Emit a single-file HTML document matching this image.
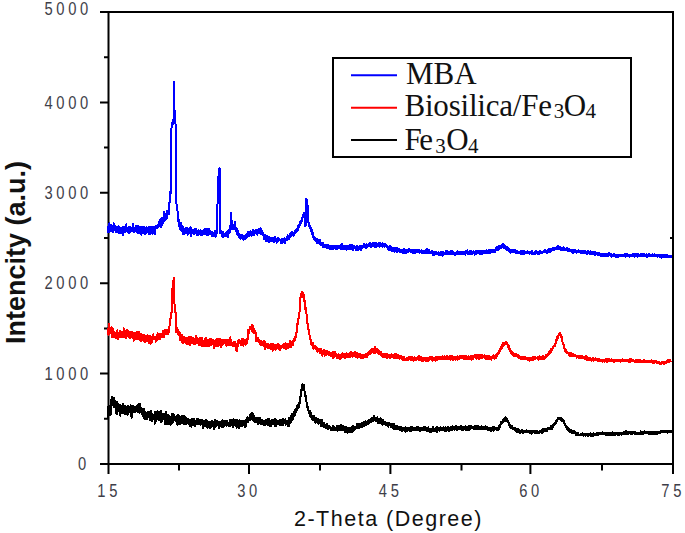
<!DOCTYPE html>
<html><head><meta charset="utf-8"><style>
html,body{margin:0;padding:0;background:#fff;}
body{width:685px;height:533px;overflow:hidden;position:relative;}
svg{position:absolute;left:0;top:0;}
.t{font-family:"Liberation Sans",sans-serif;}
.s{font-family:"Liberation Serif",serif;}
</style></head><body>
<svg width="685" height="533" viewBox="0 0 685 533">

<g stroke="#000" stroke-width="2" fill="none">
<path d="M108.5 11V465M107.5 464H674M107.5 12H674M673 11V465"/>
<path d="M100 464H108M100 373.6H108M100 283.2H108M100 192.8H108M100 102.4H108M100 12H108"/>
<path d="M104 418.8H108M104 328.4H108M104 238H108M104 147.6H108M104 57.2H108"/>
<path d="M108.5 464V474M249 464V474M390.4 464V474M530.4 464V474M673 464V474"/>
<path d="M179 464V470.5M320 464V470.5M461.5 464V470.5M602 464V470.5"/>
<path d="M670 238H673"/>
<rect x="333" y="58" width="298" height="99"/>
</g>
<g fill="none" shape-rendering="crispEdges" stroke-width="2" stroke-linejoin="round">
<path stroke="#0000ff" d="M107.6 226.7 107.8 232.2 108.0 227.7 108.2 230.8 108.4 226.3 108.6 228.2 108.8 231.2 109.0 228.5 109.2 228.3 109.4 223.1 109.6 231.8 109.8 228.2 110.0 228.8 110.2 228.3 110.4 227.6 110.6 227.7 110.8 224.9 111.0 229.0 111.2 228.0 111.4 226.3 111.6 231.0 111.8 225.9 112.0 227.8 112.2 231.6 112.4 231.3 112.6 230.8 112.8 227.5 113.0 228.2 113.2 227.4 113.4 231.6 113.6 227.4 113.8 223.4 114.0 229.4 114.2 229.7 114.4 229.6 114.6 230.3 114.8 225.6 115.0 228.9 115.2 228.5 115.4 226.2 115.6 230.1 115.8 232.3 116.0 228.6 116.2 228.1 116.4 231.4 116.6 228.6 116.8 228.0 117.0 232.4 117.2 227.0 117.4 230.7 117.6 230.5 117.8 231.2 118.0 226.7 118.2 229.8 118.4 227.5 118.6 226.4 118.8 231.5 119.0 233.0 119.2 230.6 119.4 228.3 119.6 228.3 119.8 227.3 120.0 231.3 120.2 232.0 120.4 229.6 120.6 228.8 120.8 228.3 121.0 231.5 121.2 231.1 121.4 233.5 121.6 228.6 121.8 231.5 122.0 232.8 122.2 227.9 122.4 230.5 122.6 227.4 122.8 231.6 123.0 234.7 123.2 231.8 123.4 231.4 123.6 230.3 123.8 228.9 124.0 230.8 124.2 226.9 124.4 231.2 124.6 228.3 124.8 232.3 125.0 227.3 125.2 229.9 125.4 229.3 125.6 230.0 125.8 228.6 126.0 229.3 126.2 224.3 126.4 226.9 126.6 229.5 126.8 227.6 127.0 230.2 127.2 227.8 127.4 231.4 127.6 228.6 127.8 229.7 128.0 231.8 128.2 230.4 128.4 230.8 128.6 229.3 128.8 227.3 129.0 226.5 129.2 233.3 129.4 226.9 129.6 229.3 129.8 227.0 130.0 226.9 130.2 232.2 130.4 230.5 130.6 227.5 130.8 227.8 131.0 228.1 131.2 231.1 131.4 229.1 131.6 229.0 131.8 230.6 132.0 231.4 132.2 230.3 132.4 228.0 132.6 229.1 132.8 223.6 133.0 225.9 133.2 228.6 133.4 229.7 133.6 228.1 133.8 230.4 134.0 232.6 134.2 232.1 134.4 230.0 134.6 231.7 134.8 229.5 135.0 231.6 135.2 230.5 135.4 229.1 135.6 225.7 135.8 228.9 136.0 226.4 136.2 228.5 136.4 230.1 136.6 230.7 136.8 229.6 137.0 232.4 137.2 230.0 137.4 226.4 137.6 232.6 137.8 229.3 138.0 229.4 138.2 231.4 138.4 226.3 138.6 233.2 138.8 228.8 139.0 229.0 139.2 226.7 139.4 232.1 139.6 229.9 139.8 233.3 140.0 231.2 140.2 230.8 140.4 230.9 140.6 227.8 140.8 228.6 141.0 232.0 141.2 227.2 141.4 235.0 141.6 229.8 141.8 229.3 142.0 229.9 142.2 228.0 142.4 229.4 142.6 228.5 142.8 227.0 143.0 232.6 143.2 233.2 143.4 229.5 143.6 231.1 143.8 230.6 144.0 227.1 144.2 233.3 144.4 227.4 144.6 231.6 144.8 233.8 145.0 228.8 145.2 232.4 145.4 230.2 145.6 233.5 145.8 233.1 146.0 229.5 146.2 233.2 146.4 227.4 146.6 230.9 146.8 230.5 147.0 229.2 147.2 227.6 147.4 230.0 147.6 229.2 147.8 230.1 148.0 232.3 148.2 230.4 148.4 233.1 148.6 232.5 148.8 231.9 149.0 226.6 149.2 234.2 149.4 228.5 149.6 229.0 149.8 233.4 150.0 230.2 150.2 232.2 150.4 234.0 150.6 232.8 150.8 227.2 151.0 228.8 151.2 232.8 151.4 231.5 151.6 228.4 151.8 233.2 152.0 227.2 152.2 231.2 152.4 229.2 152.6 233.9 152.8 228.1 153.0 228.3 153.2 227.0 153.4 229.0 153.6 227.6 153.8 229.1 154.0 227.4 154.2 233.0 154.4 232.3 154.6 232.2 154.8 229.6 155.0 233.8 155.2 230.9 155.4 226.2 155.6 226.6 155.8 228.7 156.0 225.6 156.2 227.9 156.4 225.6 156.6 227.3 156.8 226.6 157.0 225.5 157.2 228.2 157.4 228.4 157.6 227.9 157.8 224.5 158.0 224.6 158.2 226.7 158.4 225.7 158.6 224.8 158.8 222.6 159.0 222.4 159.2 221.9 159.4 223.3 159.6 224.8 159.8 226.1 160.0 225.1 160.2 219.4 160.4 223.7 160.6 220.2 160.8 219.3 161.0 227.1 161.2 223.7 161.4 221.8 161.6 218.2 161.8 221.7 162.0 221.1 162.2 224.7 162.4 220.6 162.6 218.7 162.8 223.5 163.0 222.4 163.2 217.9 163.4 218.8 163.6 218.1 163.8 213.5 164.0 212.2 164.2 213.7 164.4 212.1 164.6 221.0 164.8 218.7 165.0 219.3 165.2 219.7 165.4 217.9 165.6 214.9 165.8 213.8 166.0 216.6 166.2 218.9 166.4 216.6 166.6 218.5 166.8 215.2 167.0 217.8 167.2 211.1 167.4 213.3 167.6 215.1 167.8 212.6 168.0 214.6 168.2 214.1 168.4 212.6 168.6 212.9 168.8 212.8 169.0 213.1 169.2 213.6 169.4 205.0 169.6 200.5 169.8 192.2 170.0 193.0 170.2 192.5 170.4 192.8 170.6 193.8 170.8 178.8 171.0 163.3 171.2 147.7 171.4 132.7 171.6 124.5 171.8 123.8 172.0 125.4 172.2 122.9 172.4 123.7 172.6 122.8 172.8 124.1 173.0 122.8 173.2 123.0 173.4 123.4 173.6 115.1 173.8 99.1 174.0 83.5 174.2 82.3 174.4 103.3 174.6 115.2 174.8 115.0 175.0 114.3 175.2 115.4 175.4 116.7 175.6 127.9 175.8 153.6 176.0 177.4 176.2 202.8 176.4 203.8 176.6 204.3 176.8 204.2 177.0 205.1 177.2 205.3 177.4 209.1 177.6 213.4 177.8 221.0 178.0 217.6 178.2 217.7 178.4 217.3 178.6 221.6 178.8 221.6 179.0 225.7 179.2 223.1 179.4 220.2 179.6 227.1 179.8 222.6 180.0 228.4 180.2 229.6 180.4 229.0 180.6 228.6 180.8 223.0 181.0 228.0 181.2 227.3 181.4 228.3 181.6 226.7 181.8 230.6 182.0 226.1 182.2 228.9 182.4 228.5 182.6 228.5 182.8 227.2 183.0 234.0 183.2 230.7 183.4 231.5 183.6 228.4 183.8 231.7 184.0 230.7 184.2 234.1 184.4 229.1 184.6 228.7 184.8 229.1 185.0 229.2 185.2 229.1 185.4 228.0 185.6 229.7 185.8 229.9 186.0 230.0 186.2 233.5 186.4 229.3 186.6 229.6 186.8 230.7 187.0 229.5 187.2 228.0 187.4 229.2 187.6 234.7 187.8 233.3 188.0 232.6 188.2 229.4 188.4 231.6 188.6 230.2 188.8 230.4 189.0 232.7 189.2 231.5 189.4 229.5 189.6 231.6 189.8 229.6 190.0 231.0 190.2 227.4 190.4 227.7 190.6 229.2 190.8 234.3 191.0 233.0 191.2 235.8 191.4 227.9 191.6 232.8 191.8 230.2 192.0 230.3 192.2 233.1 192.4 231.1 192.6 230.6 192.8 231.5 193.0 230.3 193.2 232.9 193.4 229.8 193.6 231.4 193.8 231.9 194.0 231.4 194.2 234.0 194.4 231.3 194.6 230.9 194.8 233.6 195.0 231.3 195.2 228.7 195.4 230.6 195.6 231.2 195.8 232.1 196.0 232.2 196.2 228.6 196.4 233.0 196.6 232.6 196.8 231.2 197.0 234.9 197.2 234.1 197.4 231.2 197.6 230.6 197.8 234.1 198.0 230.7 198.2 235.1 198.4 231.1 198.6 230.0 198.8 232.4 199.0 234.3 199.2 231.6 199.4 230.8 199.6 232.3 199.8 231.3 200.0 232.3 200.2 233.8 200.4 230.4 200.6 233.5 200.8 234.8 201.0 233.3 201.2 233.7 201.4 232.3 201.6 233.6 201.8 230.5 202.0 232.8 202.2 233.9 202.4 234.6 202.6 234.4 202.8 234.3 203.0 230.5 203.2 232.6 203.4 233.1 203.6 233.6 203.8 232.2 204.0 231.7 204.2 229.4 204.4 231.6 204.6 233.7 204.8 229.9 205.0 229.0 205.2 231.6 205.4 232.0 205.6 230.8 205.8 234.1 206.0 231.5 206.2 233.4 206.4 234.0 206.6 235.4 206.8 233.9 207.0 229.0 207.2 232.2 207.4 233.2 207.6 231.7 207.8 229.7 208.0 230.5 208.2 234.9 208.4 229.2 208.6 230.7 208.8 232.9 209.0 234.6 209.2 231.5 209.4 228.5 209.6 231.2 209.8 231.5 210.0 233.9 210.2 232.0 210.4 233.8 210.6 234.2 210.8 234.1 211.0 234.1 211.2 232.0 211.4 233.8 211.6 233.3 211.8 236.1 212.0 231.5 212.2 236.4 212.4 234.3 212.6 232.5 212.8 234.1 213.0 233.3 213.2 233.9 213.4 235.6 213.6 233.1 213.8 234.2 214.0 234.4 214.2 233.2 214.4 233.9 214.6 233.6 214.8 236.4 215.0 235.7 215.2 230.9 215.4 236.9 215.6 234.8 215.8 234.6 216.0 236.6 216.2 233.6 216.4 234.0 216.6 233.3 216.8 233.1 217.0 232.6 217.2 221.4 217.4 210.6 217.6 200.3 217.8 189.4 218.0 177.8 218.2 178.4 218.4 176.5 218.6 176.6 218.8 173.0 219.0 170.0 219.2 168.9 219.4 168.4 219.6 169.2 219.8 168.4 220.0 200.2 220.2 232.8 220.4 231.8 220.6 231.3 220.8 232.6 221.0 231.8 221.2 232.2 221.4 231.0 221.6 231.8 221.8 236.1 222.0 233.3 222.2 233.6 222.4 236.3 222.6 231.5 222.8 235.8 223.0 233.2 223.2 236.8 223.4 232.6 223.6 233.6 223.8 234.1 224.0 236.2 224.2 235.1 224.4 234.9 224.6 236.1 224.8 234.8 225.0 235.8 225.2 236.1 225.4 233.2 225.6 236.3 225.8 233.1 226.0 233.2 226.2 232.9 226.4 234.2 226.6 234.0 226.8 235.9 227.0 233.5 227.2 232.2 227.4 234.1 227.6 232.5 227.8 231.4 228.0 236.9 228.2 235.1 228.4 231.6 228.6 229.5 228.8 229.5 229.0 230.1 229.2 232.9 229.4 231.5 229.6 232.0 229.8 231.6 230.0 231.9 230.2 232.1 230.4 229.3 230.6 222.1 230.8 216.3 231.0 212.6 231.2 212.7 231.4 216.2 231.6 223.2 231.8 229.1 232.0 227.3 232.2 227.5 232.4 229.1 232.6 227.8 232.8 228.2 233.0 227.9 233.2 228.7 233.4 229.0 233.6 227.7 233.8 228.9 234.0 228.6 234.2 226.7 234.4 225.4 234.6 223.7 234.8 222.0 235.0 222.6 235.2 223.5 235.4 226.1 235.6 229.9 235.8 230.9 236.0 229.6 236.2 229.6 236.4 231.8 236.6 230.9 236.8 228.3 237.0 231.0 237.2 231.4 237.4 234.9 237.6 235.3 237.8 233.6 238.0 232.3 238.2 231.0 238.4 234.6 238.6 234.8 238.8 233.4 239.0 236.5 239.2 236.9 239.4 234.9 239.6 236.2 239.8 237.2 240.0 238.6 240.2 234.6 240.4 239.0 240.6 238.3 240.8 236.7 241.0 237.9 241.2 238.4 241.4 235.9 241.6 236.5 241.8 238.5 242.0 235.2 242.2 235.9 242.4 238.7 242.6 237.8 242.8 237.2 243.0 236.5 243.2 238.6 243.4 240.0 243.6 239.6 243.8 239.4 244.0 237.9 244.2 238.8 244.4 235.5 244.6 238.6 244.8 238.3 245.0 238.8 245.2 237.5 245.4 235.1 245.6 237.0 245.8 237.7 246.0 235.8 246.2 238.0 246.4 234.2 246.6 237.3 246.8 234.6 247.0 233.6 247.2 234.1 247.4 236.7 247.6 235.5 247.8 231.8 248.0 233.5 248.2 234.0 248.4 232.0 248.6 231.7 248.8 232.5 249.0 235.7 249.2 232.8 249.4 232.6 249.6 235.2 249.8 233.3 250.0 233.6 250.2 231.6 250.4 231.9 250.6 231.1 250.8 231.2 251.0 232.0 251.2 235.7 251.4 236.0 251.6 233.1 251.8 234.2 252.0 234.4 252.2 232.3 252.4 234.3 252.6 234.9 252.8 231.5 253.0 229.9 253.2 234.4 253.4 233.8 253.6 231.0 253.8 234.3 254.0 234.7 254.2 232.0 254.4 231.4 254.6 233.3 254.8 231.8 255.0 231.0 255.2 233.4 255.4 232.2 255.6 232.9 255.8 229.6 256.0 232.3 256.2 232.5 256.4 231.6 256.6 231.2 256.8 233.5 257.0 230.3 257.2 231.9 257.4 234.8 257.6 232.0 257.8 232.8 258.0 230.5 258.2 231.4 258.4 232.5 258.6 229.2 258.8 231.9 259.0 230.1 259.2 233.3 259.4 231.0 259.6 231.3 259.8 230.6 260.0 231.2 260.2 233.4 260.4 228.5 260.6 228.0 260.8 233.8 261.0 233.4 261.2 230.8 261.4 232.5 261.6 230.7 261.8 233.7 262.0 231.8 262.2 230.6 262.4 231.3 262.6 232.5 262.8 235.6 263.0 235.6 263.2 233.7 263.4 235.4 263.6 234.0 263.8 235.1 264.0 234.5 264.2 239.2 264.4 237.7 264.6 236.7 264.8 234.9 265.0 239.5 265.2 236.5 265.4 237.4 265.6 236.3 265.8 239.0 266.0 238.9 266.2 236.3 266.4 241.4 266.6 239.9 266.8 236.2 267.0 241.1 267.2 240.4 267.4 240.9 267.6 235.9 267.8 238.9 268.0 239.5 268.2 240.8 268.4 238.4 268.6 236.6 268.8 241.5 269.0 242.0 269.2 239.8 269.4 237.9 269.6 240.4 269.8 240.9 270.0 241.7 270.2 237.7 270.4 240.0 270.6 239.3 270.8 238.7 271.0 240.8 271.2 238.8 271.4 238.0 271.6 238.2 271.8 240.0 272.0 240.1 272.2 237.6 272.4 239.3 272.6 237.8 272.8 240.1 273.0 240.9 273.2 237.6 273.4 240.2 273.6 241.7 273.8 240.9 274.0 240.9 274.2 240.9 274.4 241.4 274.6 241.6 274.8 239.6 275.0 237.3 275.2 238.0 275.4 238.7 275.6 238.2 275.8 239.2 276.0 239.2 276.2 238.9 276.4 239.1 276.6 242.6 276.8 241.5 277.0 241.4 277.2 240.3 277.4 240.5 277.6 242.2 277.8 238.0 278.0 240.7 278.2 241.1 278.4 239.4 278.6 238.6 278.8 240.1 279.0 238.9 279.2 240.1 279.4 239.9 279.6 239.7 279.8 239.9 280.0 240.6 280.2 240.4 280.4 240.6 280.6 241.8 280.8 240.5 281.0 243.0 281.2 241.1 281.4 240.9 281.6 239.0 281.8 241.4 282.0 239.7 282.2 238.9 282.4 240.5 282.6 242.7 282.8 240.7 283.0 240.4 283.2 241.3 283.4 241.0 283.6 239.9 283.8 240.5 284.0 240.8 284.2 240.7 284.4 238.1 284.6 238.1 284.8 241.5 285.0 241.9 285.2 243.1 285.4 241.2 285.6 240.8 285.8 239.2 286.0 240.4 286.2 239.2 286.4 240.3 286.6 239.9 286.8 238.4 287.0 239.7 287.2 237.9 287.4 237.3 287.6 235.1 287.8 237.7 288.0 236.5 288.2 238.1 288.4 237.0 288.6 235.9 288.8 238.4 289.0 236.9 289.2 239.0 289.4 237.4 289.6 234.3 289.8 234.4 290.0 235.6 290.2 236.8 290.4 236.4 290.6 236.1 290.8 233.3 291.0 233.9 291.2 236.3 291.4 234.6 291.6 232.4 291.8 235.5 292.0 235.6 292.2 233.9 292.4 233.7 292.6 232.3 292.8 234.1 293.0 234.8 293.2 234.0 293.4 232.9 293.6 235.7 293.8 235.0 294.0 234.9 294.2 234.6 294.4 233.5 294.6 231.8 294.8 233.2 295.0 232.1 295.2 233.3 295.4 230.2 295.6 231.2 295.8 232.2 296.0 231.0 296.2 231.1 296.4 230.0 296.6 229.1 296.8 231.4 297.0 229.6 297.2 228.6 297.4 228.6 297.6 228.9 297.8 229.3 298.0 230.0 298.2 226.3 298.4 225.9 298.6 227.4 298.8 226.8 299.0 227.3 299.2 224.5 299.4 224.9 299.6 225.7 299.8 223.9 300.0 225.2 300.2 221.8 300.4 225.5 300.6 222.7 300.8 222.2 301.0 222.4 301.2 221.5 301.4 220.6 301.6 221.4 301.8 219.9 302.0 219.4 302.2 218.0 302.4 218.0 302.6 217.2 302.8 216.5 303.0 216.4 303.2 215.6 303.4 214.2 303.6 213.5 303.8 213.5 304.0 213.5 304.2 213.1 304.4 214.5 304.6 218.8 304.8 221.8 305.0 226.0 305.2 226.3 305.4 225.6 305.6 225.7 305.8 217.2 306.0 208.0 306.2 198.9 306.4 198.9 306.6 199.4 306.8 199.8 307.0 201.7 307.2 205.7 307.4 205.7 307.6 205.6 307.8 206.3 308.0 212.7 308.2 219.9 308.4 223.0 308.6 223.6 308.8 223.9 309.0 223.0 309.2 225.8 309.4 225.4 309.6 226.3 309.8 227.7 310.0 225.5 310.2 227.1 310.4 227.7 310.6 226.9 310.8 229.1 311.0 229.3 311.2 231.5 311.4 230.8 311.6 231.7 311.8 232.4 312.0 230.3 312.2 231.8 312.4 235.1 312.6 232.7 312.8 233.3 313.0 235.5 313.2 235.7 313.4 234.8 313.6 239.2 313.8 236.9 314.0 239.0 314.2 237.7 314.4 237.6 314.6 237.9 314.8 238.1 315.0 240.3 315.2 240.0 315.4 239.3 315.6 238.6 315.8 239.1 316.0 241.3 316.2 239.3 316.4 241.0 316.6 241.2 316.8 242.6 317.0 239.6 317.2 240.1 317.4 239.3 317.6 241.7 317.8 242.9 318.0 242.1 318.2 241.3 318.4 242.5 318.6 242.5 318.8 242.2 319.0 241.3 319.2 240.1 319.4 242.9 319.6 239.8 319.8 242.9 320.0 243.6 320.2 243.3 320.4 244.6 320.6 242.8 320.8 243.0 321.0 242.6 321.2 243.4 321.4 243.2 321.6 244.5 321.8 244.3 322.0 245.2 322.2 243.9 322.4 244.8 322.6 246.9 322.8 246.2 323.0 243.3 323.2 246.2 323.4 244.5 323.6 247.4 323.8 247.1 324.0 246.1 324.2 245.9 324.4 247.0 324.6 246.3 324.8 244.9 325.0 245.4 325.2 246.4 325.4 247.5 325.6 245.0 325.8 246.3 326.0 246.5 326.2 244.8 326.4 246.7 326.6 246.1 326.8 244.7 327.0 245.7 327.2 248.4 327.4 246.0 327.6 246.7 327.8 247.8 328.0 246.5 328.2 246.5 328.4 245.7 328.6 245.2 328.8 247.5 329.0 247.3 329.2 246.5 329.4 247.0 329.6 247.2 329.8 248.6 330.0 248.7 330.2 248.4 330.4 247.8 330.6 248.9 330.8 245.6 331.0 248.2 331.2 247.4 331.4 248.9 331.6 246.3 331.8 247.1 332.0 246.4 332.2 247.8 332.4 246.1 332.6 247.2 332.8 248.6 333.0 249.3 333.2 246.8 333.4 248.1 333.6 246.7 333.8 248.3 334.0 247.2 334.2 246.1 334.4 248.1 334.6 247.9 334.8 247.1 335.0 248.2 335.2 248.4 335.4 248.9 335.6 248.5 335.8 246.1 336.0 247.6 336.2 248.6 336.4 247.4 336.6 247.8 336.8 247.8 337.0 246.2 337.2 247.3 337.4 248.7 337.6 246.3 337.8 246.5 338.0 246.4 338.2 246.9 338.4 247.5 338.6 246.9 338.8 248.1 339.0 247.6 339.2 245.7 339.4 247.5 339.6 247.8 339.8 245.8 340.0 248.6 340.2 247.8 340.4 246.2 340.6 246.2 340.8 246.3 341.0 244.8 341.2 248.6 341.4 249.2 341.6 247.6 341.8 244.4 342.0 244.3 342.2 247.5 342.4 247.4 342.6 248.4 342.8 248.8 343.0 249.5 343.2 249.4 343.4 246.2 343.6 247.1 343.8 248.5 344.0 247.8 344.2 245.5 344.4 248.6 344.6 248.5 344.8 246.0 345.0 246.1 345.2 247.2 345.4 247.6 345.6 246.7 345.8 248.1 346.0 247.2 346.2 249.6 346.4 249.0 346.6 245.7 346.8 246.5 347.0 249.3 347.2 247.7 347.4 248.4 347.6 247.3 347.8 246.1 348.0 245.9 348.2 247.6 348.4 247.0 348.6 247.6 348.8 247.8 349.0 247.7 349.2 248.9 349.4 245.1 349.6 246.5 349.8 246.7 350.0 246.8 350.2 245.1 350.4 245.2 350.6 249.4 350.8 248.0 351.0 246.2 351.2 246.2 351.4 248.0 351.6 246.9 351.8 246.8 352.0 245.2 352.2 248.0 352.4 247.6 352.6 249.9 352.8 246.4 353.0 248.3 353.2 248.5 353.4 249.7 353.6 247.7 353.8 248.7 354.0 247.8 354.2 245.5 354.4 248.3 354.6 246.0 354.8 248.5 355.0 247.7 355.2 247.6 355.4 247.9 355.6 248.9 355.8 250.1 356.0 248.9 356.2 248.8 356.4 247.9 356.6 246.1 356.8 247.6 357.0 246.3 357.2 246.1 357.4 246.7 357.6 249.8 357.8 247.3 358.0 247.8 358.2 249.0 358.4 248.7 358.6 249.8 358.8 247.4 359.0 249.4 359.2 249.2 359.4 246.5 359.6 248.2 359.8 246.2 360.0 248.6 360.2 248.5 360.4 249.4 360.6 248.0 360.8 246.6 361.0 250.1 361.2 248.3 361.4 245.5 361.6 247.7 361.8 247.2 362.0 245.7 362.2 246.6 362.4 246.7 362.6 247.7 362.8 246.6 363.0 246.0 363.2 246.2 363.4 247.0 363.6 246.9 363.8 247.2 364.0 247.4 364.2 244.2 364.4 245.4 364.6 244.6 364.8 247.1 365.0 246.9 365.2 246.5 365.4 246.9 365.6 247.5 365.8 246.2 366.0 245.8 366.2 247.7 366.4 245.9 366.6 244.9 366.8 244.7 367.0 244.4 367.2 246.5 367.4 246.1 367.6 244.7 367.8 246.6 368.0 245.6 368.2 244.5 368.4 246.0 368.6 246.3 368.8 244.8 369.0 244.5 369.2 243.9 369.4 244.9 369.6 244.9 369.8 243.0 370.0 244.3 370.2 245.9 370.4 246.0 370.6 246.4 370.8 246.4 371.0 246.9 371.2 245.3 371.4 245.8 371.6 244.5 371.8 245.7 372.0 245.0 372.2 243.4 372.4 245.3 372.6 246.0 372.8 245.4 373.0 245.0 373.2 244.8 373.4 243.3 373.6 244.9 373.8 243.9 374.0 245.9 374.2 244.9 374.4 247.1 374.6 243.7 374.8 245.6 375.0 243.2 375.2 245.2 375.4 246.9 375.6 246.6 375.8 246.9 376.0 243.2 376.2 246.0 376.4 245.5 376.6 243.5 376.8 244.4 377.0 244.5 377.2 245.4 377.4 245.4 377.6 245.9 377.8 245.3 378.0 245.0 378.2 243.7 378.4 245.9 378.6 243.1 378.8 245.1 379.0 243.6 379.2 243.4 379.4 246.2 379.6 246.6 379.8 246.7 380.0 243.1 380.2 244.1 380.4 244.4 380.6 243.7 380.8 244.1 381.0 244.6 381.2 245.6 381.4 244.2 381.6 244.1 381.8 244.2 382.0 246.0 382.2 244.7 382.4 246.7 382.6 243.3 382.8 243.8 383.0 244.9 383.2 245.3 383.4 246.2 383.6 244.6 383.8 244.3 384.0 245.4 384.2 246.1 384.4 245.1 384.6 246.9 384.8 244.1 385.0 244.6 385.2 245.0 385.4 245.7 385.6 245.4 385.8 246.0 386.0 244.8 386.2 245.7 386.4 246.3 386.6 246.7 386.8 245.4 387.0 247.1 387.2 247.4 387.4 246.0 387.6 247.1 387.8 248.2 388.0 248.4 388.2 246.5 388.4 249.2 388.6 246.7 388.8 249.9 389.0 249.2 389.2 246.5 389.4 247.5 389.6 247.2 389.8 249.5 390.0 245.9 390.2 248.8 390.4 248.5 390.6 250.1 390.8 246.8 391.0 249.1 391.2 248.0 391.4 248.4 391.6 250.7 391.8 248.2 392.0 251.3 392.2 249.3 392.4 251.3 392.6 249.3 392.8 249.2 393.0 248.6 393.2 249.2 393.4 251.2 393.6 248.2 393.8 250.5 394.0 248.5 394.2 249.1 394.4 251.9 394.6 248.7 394.8 251.1 395.0 248.0 395.2 249.9 395.4 250.2 395.6 249.2 395.8 251.2 396.0 248.8 396.2 250.2 396.4 249.4 396.6 250.2 396.8 249.4 397.0 250.1 397.2 248.2 397.4 252.2 397.6 249.2 397.8 249.9 398.0 251.1 398.2 249.5 398.4 251.2 398.6 249.3 398.8 251.2 399.0 249.8 399.2 248.5 399.4 250.4 399.6 251.0 399.8 251.5 400.0 252.4 400.2 252.0 400.4 250.5 400.6 252.1 400.8 250.5 401.0 251.3 401.2 250.2 401.4 252.2 401.6 251.0 401.8 251.4 402.0 251.4 402.2 252.6 402.4 250.0 402.6 250.6 402.8 251.5 403.0 250.0 403.2 252.3 403.4 250.0 403.6 249.5 403.8 252.8 404.0 250.6 404.2 250.3 404.4 251.4 404.6 253.4 404.8 249.3 405.0 249.7 405.2 252.2 405.4 250.5 405.6 251.2 405.8 250.6 406.0 252.9 406.2 253.5 406.4 250.5 406.6 252.3 406.8 252.5 407.0 251.6 407.2 250.1 407.4 250.8 407.6 251.0 407.8 251.8 408.0 251.1 408.2 251.7 408.4 252.3 408.6 249.7 408.8 249.1 409.0 249.4 409.2 249.6 409.4 250.2 409.6 250.0 409.8 251.4 410.0 251.5 410.2 251.1 410.4 249.6 410.6 251.1 410.8 250.5 411.0 249.7 411.2 252.2 411.4 252.1 411.6 249.6 411.8 251.6 412.0 250.3 412.2 250.8 412.4 252.2 412.6 251.8 412.8 252.6 413.0 251.4 413.2 250.7 413.4 253.0 413.6 249.8 413.8 251.3 414.0 250.8 414.2 252.5 414.4 249.9 414.6 251.3 414.8 251.1 415.0 251.7 415.2 253.5 415.4 250.8 415.6 250.8 415.8 252.1 416.0 249.9 416.2 250.7 416.4 250.9 416.6 251.6 416.8 251.0 417.0 252.5 417.2 251.6 417.4 250.7 417.6 249.6 417.8 251.7 418.0 250.2 418.2 250.3 418.4 250.3 418.6 250.8 418.8 252.0 419.0 250.1 419.2 251.3 419.4 251.9 419.6 252.9 419.8 250.9 420.0 251.6 420.2 252.5 420.4 252.3 420.6 252.1 420.8 250.9 421.0 252.1 421.2 251.0 421.4 251.5 421.6 250.2 421.8 252.1 422.0 253.4 422.2 252.3 422.4 250.9 422.6 253.0 422.8 250.7 423.0 252.9 423.2 252.0 423.4 253.0 423.6 251.7 423.8 251.5 424.0 250.6 424.2 251.4 424.4 253.4 424.6 252.7 424.8 252.3 425.0 252.2 425.2 250.7 425.4 253.3 425.6 249.9 425.8 251.2 426.0 252.2 426.2 249.8 426.4 253.5 426.6 251.5 426.8 250.3 427.0 249.3 427.2 251.7 427.4 250.4 427.6 250.3 427.8 251.6 428.0 251.2 428.2 253.1 428.4 249.9 428.6 252.7 428.8 250.2 429.0 252.9 429.2 250.6 429.4 250.5 429.6 252.1 429.8 251.8 430.0 251.4 430.2 253.0 430.4 252.4 430.6 251.9 430.8 252.2 431.0 252.0 431.2 252.0 431.4 252.8 431.6 250.8 431.8 251.9 432.0 251.8 432.2 252.9 432.4 254.0 432.6 251.4 432.8 255.2 433.0 252.3 433.2 253.9 433.4 253.2 433.6 253.6 433.8 253.7 434.0 252.9 434.2 255.0 434.4 253.9 434.6 253.1 434.8 252.6 435.0 251.7 435.2 253.3 435.4 253.0 435.6 251.8 435.8 253.9 436.0 253.4 436.2 253.8 436.4 254.1 436.6 253.6 436.8 253.6 437.0 253.4 437.2 254.5 437.4 252.6 437.6 252.8 437.8 254.5 438.0 252.9 438.2 254.2 438.4 252.2 438.6 254.4 438.8 255.3 439.0 253.8 439.2 252.6 439.4 255.1 439.6 252.7 439.8 254.5 440.0 253.1 440.2 253.0 440.4 253.9 440.6 251.9 440.8 252.1 441.0 255.4 441.2 253.9 441.4 252.5 441.6 253.1 441.8 254.3 442.0 253.5 442.2 254.0 442.4 252.5 442.6 255.8 442.8 252.2 443.0 253.9 443.2 253.9 443.4 252.6 443.6 252.1 443.8 253.8 444.0 254.4 444.2 252.7 444.4 253.0 444.6 253.1 444.8 253.3 445.0 252.9 445.2 253.2 445.4 253.2 445.6 252.1 445.8 251.2 446.0 252.8 446.2 252.4 446.4 254.3 446.6 251.7 446.8 252.3 447.0 253.8 447.2 251.3 447.4 252.6 447.6 251.9 447.8 251.3 448.0 252.4 448.2 254.3 448.4 252.5 448.6 252.0 448.8 253.7 449.0 252.6 449.2 253.7 449.4 253.8 449.6 254.3 449.8 253.4 450.0 251.5 450.2 251.4 450.4 253.1 450.6 253.2 450.8 251.0 451.0 254.4 451.2 251.3 451.4 253.0 451.6 252.2 451.8 250.8 452.0 253.9 452.2 251.5 452.4 253.1 452.6 251.5 452.8 252.6 453.0 252.8 453.2 252.9 453.4 252.1 453.6 253.8 453.8 253.2 454.0 253.4 454.2 253.2 454.4 253.3 454.6 253.2 454.8 252.9 455.0 255.5 455.2 253.0 455.4 254.7 455.6 253.1 455.8 253.7 456.0 253.1 456.2 254.0 456.4 254.1 456.6 252.6 456.8 252.2 457.0 254.2 457.2 252.1 457.4 253.2 457.6 251.4 457.8 253.0 458.0 252.8 458.2 252.0 458.4 251.9 458.6 254.5 458.8 253.2 459.0 254.2 459.2 253.1 459.4 253.6 459.6 252.4 459.8 251.7 460.0 252.4 460.2 253.9 460.4 253.6 460.6 252.7 460.8 251.7 461.0 251.6 461.2 251.5 461.4 251.5 461.6 252.5 461.8 251.5 462.0 253.7 462.2 252.5 462.4 252.8 462.6 253.9 462.8 251.9 463.0 252.8 463.2 254.4 463.4 252.4 463.6 253.6 463.8 251.6 464.0 254.1 464.2 252.5 464.4 252.2 464.6 252.2 464.8 254.2 465.0 253.6 465.2 251.8 465.4 254.6 465.6 253.0 465.8 253.7 466.0 250.8 466.2 252.9 466.4 253.4 466.6 253.3 466.8 251.6 467.0 252.2 467.2 253.7 467.4 250.3 467.6 253.6 467.8 251.9 468.0 253.4 468.2 251.6 468.4 253.1 468.6 251.7 468.8 252.7 469.0 254.0 469.2 253.9 469.4 252.0 469.6 251.1 469.8 253.3 470.0 252.8 470.2 251.9 470.4 251.0 470.6 252.1 470.8 250.5 471.0 253.3 471.2 254.4 471.4 253.1 471.6 253.8 471.8 252.1 472.0 251.7 472.2 252.7 472.4 253.6 472.6 253.4 472.8 252.2 473.0 251.9 473.2 252.5 473.4 250.9 473.6 251.8 473.8 253.3 474.0 251.5 474.2 253.4 474.4 251.6 474.6 252.3 474.8 254.6 475.0 252.9 475.2 252.2 475.4 254.1 475.6 252.3 475.8 252.0 476.0 251.0 476.2 252.4 476.4 253.3 476.6 254.0 476.8 253.0 477.0 252.7 477.2 252.3 477.4 253.3 477.6 251.3 477.8 250.9 478.0 252.1 478.2 252.4 478.4 252.2 478.6 253.2 478.8 251.3 479.0 253.0 479.2 253.1 479.4 251.4 479.6 253.3 479.8 252.0 480.0 253.8 480.2 251.5 480.4 252.9 480.6 252.6 480.8 251.3 481.0 252.1 481.2 250.9 481.4 252.9 481.6 252.3 481.8 254.0 482.0 251.2 482.2 250.9 482.4 252.2 482.6 253.0 482.8 252.9 483.0 252.1 483.2 253.3 483.4 250.6 483.6 251.9 483.8 252.9 484.0 252.6 484.2 251.3 484.4 252.8 484.6 252.5 484.8 250.7 485.0 253.1 485.2 252.8 485.4 253.5 485.6 251.8 485.8 252.4 486.0 251.1 486.2 251.9 486.4 250.0 486.6 251.9 486.8 251.6 487.0 252.8 487.2 252.1 487.4 250.9 487.6 251.3 487.8 252.7 488.0 253.1 488.2 251.2 488.4 252.5 488.6 251.4 488.8 251.2 489.0 250.1 489.2 252.8 489.4 252.0 489.6 249.9 489.8 252.1 490.0 251.0 490.2 250.1 490.4 252.6 490.6 252.1 490.8 250.9 491.0 251.4 491.2 251.6 491.4 250.3 491.6 251.3 491.8 249.7 492.0 250.4 492.2 250.3 492.4 250.1 492.6 251.3 492.8 250.2 493.0 251.3 493.2 252.0 493.4 251.1 493.6 250.4 493.8 250.3 494.0 250.2 494.2 252.0 494.4 252.1 494.6 250.6 494.8 251.7 495.0 250.5 495.2 252.2 495.4 252.3 495.6 249.6 495.8 248.3 496.0 250.3 496.2 249.3 496.4 250.0 496.6 247.4 496.8 249.9 497.0 250.0 497.2 247.7 497.4 250.0 497.6 250.4 497.8 247.3 498.0 249.1 498.2 246.3 498.4 247.9 498.6 247.1 498.8 248.0 499.0 246.9 499.2 246.8 499.4 249.3 499.6 248.5 499.8 248.4 500.0 247.6 500.2 246.2 500.4 246.7 500.6 246.2 500.8 248.2 501.0 247.4 501.2 246.8 501.4 245.9 501.6 246.7 501.8 246.3 502.0 245.3 502.2 244.8 502.4 245.5 502.6 246.7 502.8 245.4 503.0 243.6 503.2 243.8 503.4 243.7 503.6 245.1 503.8 246.9 504.0 245.8 504.2 245.5 504.4 248.3 504.6 245.8 504.8 246.3 505.0 247.6 505.2 247.8 505.4 245.5 505.6 247.5 505.8 248.4 506.0 248.5 506.2 249.1 506.4 248.1 506.6 247.8 506.8 247.2 507.0 249.0 507.2 250.4 507.4 249.2 507.6 248.8 507.8 247.8 508.0 248.9 508.2 249.4 508.4 249.2 508.6 250.8 508.8 249.7 509.0 248.8 509.2 248.8 509.4 251.3 509.6 250.9 509.8 250.2 510.0 251.8 510.2 252.6 510.4 250.6 510.6 250.1 510.8 250.0 511.0 250.7 511.2 251.7 511.4 250.8 511.6 252.5 511.8 250.3 512.0 250.1 512.2 251.4 512.4 250.7 512.6 250.3 512.8 251.3 513.0 252.4 513.2 251.3 513.4 250.5 513.6 251.0 513.8 251.4 514.0 251.3 514.2 251.6 514.4 252.5 514.6 252.4 514.8 251.6 515.0 250.3 515.2 251.9 515.4 250.6 515.6 252.4 515.8 252.6 516.0 251.4 516.2 252.9 516.4 250.8 516.6 252.7 516.8 251.0 517.0 253.5 517.2 252.4 517.4 251.8 517.6 253.3 517.8 251.4 518.0 252.1 518.2 252.5 518.4 252.0 518.6 252.2 518.8 253.4 519.0 251.8 519.2 252.4 519.4 251.6 519.6 253.5 519.8 252.1 520.0 252.5 520.2 252.8 520.4 251.5 520.6 253.4 520.8 252.9 521.0 253.8 521.2 253.2 521.4 252.2 521.6 252.8 521.8 251.5 522.0 251.3 522.2 251.6 522.4 253.6 522.6 253.3 522.8 253.0 523.0 252.3 523.2 252.1 523.4 253.3 523.6 252.4 523.8 251.9 524.0 251.3 524.2 252.0 524.4 254.2 524.6 252.1 524.8 253.6 525.0 252.1 525.2 252.6 525.4 252.3 525.6 253.4 525.8 251.8 526.0 252.6 526.2 253.1 526.4 252.5 526.6 252.4 526.8 252.8 527.0 253.0 527.2 251.5 527.4 251.4 527.6 251.8 527.8 251.5 528.0 252.1 528.2 251.8 528.4 253.3 528.6 253.4 528.8 252.0 529.0 252.3 529.2 252.8 529.4 253.7 529.6 251.6 529.8 251.8 530.0 251.7 530.2 253.1 530.4 251.9 530.6 252.1 530.8 253.1 531.0 252.1 531.2 252.0 531.4 252.1 531.6 253.3 531.8 251.1 532.0 252.4 532.2 253.9 532.4 253.7 532.6 254.2 532.8 254.4 533.0 254.1 533.2 252.8 533.4 254.3 533.6 253.0 533.8 254.2 534.0 253.5 534.2 253.8 534.4 252.8 534.6 253.1 534.8 253.0 535.0 252.1 535.2 252.6 535.4 251.5 535.6 254.0 535.8 253.1 536.0 252.9 536.2 251.4 536.4 252.1 536.6 252.3 536.8 253.5 537.0 251.7 537.2 252.1 537.4 251.6 537.6 252.1 537.8 253.7 538.0 251.5 538.2 253.6 538.4 252.8 538.6 252.3 538.8 254.4 539.0 254.3 539.2 253.8 539.4 251.9 539.6 251.6 539.8 252.2 540.0 251.5 540.2 253.1 540.4 250.6 540.6 252.7 540.8 252.4 541.0 251.9 541.2 252.3 541.4 252.4 541.6 253.4 541.8 251.9 542.0 252.7 542.2 252.0 542.4 252.9 542.6 252.2 542.8 252.3 543.0 252.2 543.2 251.3 543.4 252.3 543.6 250.9 543.8 252.5 544.0 251.8 544.2 252.1 544.4 250.9 544.6 250.1 544.8 252.3 545.0 250.3 545.2 250.2 545.4 251.3 545.6 252.0 545.8 251.4 546.0 252.1 546.2 251.9 546.4 252.1 546.6 251.8 546.8 251.6 547.0 252.7 547.2 250.3 547.4 251.3 547.6 251.0 547.8 252.3 548.0 251.0 548.2 250.5 548.4 249.2 548.6 251.9 548.8 249.5 549.0 251.0 549.2 249.4 549.4 251.0 549.6 252.4 549.8 250.9 550.0 250.5 550.2 250.9 550.4 250.1 550.6 250.6 550.8 250.8 551.0 251.4 551.2 250.1 551.4 248.6 551.6 249.5 551.8 249.6 552.0 249.3 552.2 248.9 552.4 249.2 552.6 249.9 552.8 249.4 553.0 249.9 553.2 248.0 553.4 249.1 553.6 249.2 553.8 248.4 554.0 248.8 554.2 249.9 554.4 248.7 554.6 249.9 554.8 249.2 555.0 249.0 555.2 248.0 555.4 248.8 555.6 247.7 555.8 249.5 556.0 247.5 556.2 247.4 556.4 247.1 556.6 248.5 556.8 249.0 557.0 248.6 557.2 249.4 557.4 247.0 557.6 249.3 557.8 246.1 558.0 247.1 558.2 249.3 558.4 247.8 558.6 248.1 558.8 247.7 559.0 247.4 559.2 247.6 559.4 248.4 559.6 247.8 559.8 247.4 560.0 246.7 560.2 249.5 560.4 247.3 560.6 247.6 560.8 248.5 561.0 249.8 561.2 248.2 561.4 249.6 561.6 250.0 561.8 248.7 562.0 249.9 562.2 249.1 562.4 248.0 562.6 247.6 562.8 247.7 563.0 248.9 563.2 249.4 563.4 247.3 563.6 247.8 563.8 250.1 564.0 250.3 564.2 248.4 564.4 250.0 564.6 249.2 564.8 249.1 565.0 249.6 565.2 248.9 565.4 249.8 565.6 248.8 565.8 249.8 566.0 249.7 566.2 249.6 566.4 249.1 566.6 249.7 566.8 248.9 567.0 248.2 567.2 250.2 567.4 248.3 567.6 250.7 567.8 251.1 568.0 251.0 568.2 250.4 568.4 250.9 568.6 249.8 568.8 251.0 569.0 250.3 569.2 249.0 569.4 250.1 569.6 250.8 569.8 250.7 570.0 249.8 570.2 250.3 570.4 250.0 570.6 250.4 570.8 250.7 571.0 250.8 571.2 250.4 571.4 250.1 571.6 252.2 571.8 251.5 572.0 252.0 572.2 251.0 572.4 251.8 572.6 250.5 572.8 252.7 573.0 250.8 573.2 251.8 573.4 251.7 573.6 252.5 573.8 251.8 574.0 250.2 574.2 250.5 574.4 250.1 574.6 251.1 574.8 251.7 575.0 251.1 575.2 251.0 575.4 251.2 575.6 251.8 575.8 250.4 576.0 251.1 576.2 252.4 576.4 252.4 576.6 252.0 576.8 252.7 577.0 252.2 577.2 252.5 577.4 251.0 577.6 252.2 577.8 250.7 578.0 251.7 578.2 251.0 578.4 252.1 578.6 250.8 578.8 250.4 579.0 250.9 579.2 251.1 579.4 252.3 579.6 250.9 579.8 251.0 580.0 251.2 580.2 250.6 580.4 250.8 580.6 252.8 580.8 252.8 581.0 252.5 581.2 252.2 581.4 251.0 581.6 251.9 581.8 252.7 582.0 251.5 582.2 250.7 582.4 252.3 582.6 251.5 582.8 252.5 583.0 250.6 583.2 253.0 583.4 252.3 583.6 252.2 583.8 251.9 584.0 253.0 584.2 251.6 584.4 251.6 584.6 253.0 584.8 252.1 585.0 251.2 585.2 251.6 585.4 252.7 585.6 251.5 585.8 252.3 586.0 251.7 586.2 252.9 586.4 252.1 586.6 253.2 586.8 253.1 587.0 253.2 587.2 253.8 587.4 251.6 587.6 253.8 587.8 252.6 588.0 251.7 588.2 251.2 588.4 252.5 588.6 252.8 588.8 253.2 589.0 252.3 589.2 252.4 589.4 251.7 589.6 251.6 589.8 252.7 590.0 252.3 590.2 253.8 590.4 251.2 590.6 253.0 590.8 253.3 591.0 252.0 591.2 253.8 591.4 252.0 591.6 253.1 591.8 252.0 592.0 252.5 592.2 253.2 592.4 254.1 592.6 252.4 592.8 252.3 593.0 253.7 593.2 253.2 593.4 251.9 593.6 253.0 593.8 254.3 594.0 252.8 594.2 254.0 594.4 254.7 594.6 252.3 594.8 254.1 595.0 254.7 595.2 252.3 595.4 252.8 595.6 252.3 595.8 254.6 596.0 253.2 596.2 252.6 596.4 253.0 596.6 253.1 596.8 254.4 597.0 254.2 597.2 254.7 597.4 252.8 597.6 253.8 597.8 253.4 598.0 254.0 598.2 254.9 598.4 254.3 598.6 254.9 598.8 253.8 599.0 253.1 599.2 253.8 599.4 255.0 599.6 254.3 599.8 253.3 600.0 254.4 600.2 253.8 600.4 254.7 600.6 255.6 600.8 253.8 601.0 254.8 601.2 254.6 601.4 254.9 601.6 254.6 601.8 254.4 602.0 256.3 602.2 254.9 602.4 256.3 602.6 254.9 602.8 255.2 603.0 254.3 603.2 253.9 603.4 255.4 603.6 254.4 603.8 254.1 604.0 255.5 604.2 256.3 604.4 255.6 604.6 253.7 604.8 254.6 605.0 255.6 605.2 254.9 605.4 255.9 605.6 256.4 605.8 254.3 606.0 255.1 606.2 255.3 606.4 255.6 606.6 254.8 606.8 253.6 607.0 255.4 607.2 255.6 607.4 254.2 607.6 254.4 607.8 255.2 608.0 253.9 608.2 255.9 608.4 256.0 608.6 255.5 608.8 255.5 609.0 254.7 609.2 253.1 609.4 255.0 609.6 254.2 609.8 255.5 610.0 254.4 610.2 254.0 610.4 254.9 610.6 255.7 610.8 253.8 611.0 254.9 611.2 256.1 611.4 254.2 611.6 254.8 611.8 256.6 612.0 254.6 612.2 255.7 612.4 255.4 612.6 255.0 612.8 254.5 613.0 255.6 613.2 256.2 613.4 256.2 613.6 254.7 613.8 254.9 614.0 254.0 614.2 256.0 614.4 255.2 614.6 255.3 614.8 255.6 615.0 255.5 615.2 255.1 615.4 256.2 615.6 256.5 615.8 255.4 616.0 254.6 616.2 255.2 616.4 256.5 616.6 255.5 616.8 256.7 617.0 254.7 617.2 256.7 617.4 254.9 617.6 255.5 617.8 255.3 618.0 256.4 618.2 256.4 618.4 254.7 618.6 256.7 618.8 256.3 619.0 255.8 619.2 256.2 619.4 255.4 619.6 255.1 619.8 254.9 620.0 255.4 620.2 255.2 620.4 255.6 620.6 254.6 620.8 254.7 621.0 255.9 621.2 256.5 621.4 255.0 621.6 255.3 621.8 256.4 622.0 254.5 622.2 255.5 622.4 255.8 622.6 255.9 622.8 256.2 623.0 255.6 623.2 255.9 623.4 255.4 623.6 256.0 623.8 256.0 624.0 256.1 624.2 256.0 624.4 255.5 624.6 254.4 624.8 255.6 625.0 254.2 625.2 256.6 625.4 256.4 625.6 255.7 625.8 256.4 626.0 256.4 626.2 254.6 626.4 255.4 626.6 254.8 626.8 254.1 627.0 255.7 627.2 254.8 627.4 255.3 627.6 254.8 627.8 256.3 628.0 256.2 628.2 255.6 628.4 256.5 628.6 254.6 628.8 254.9 629.0 255.5 629.2 255.7 629.4 255.3 629.6 256.6 629.8 254.6 630.0 255.1 630.2 256.1 630.4 254.8 630.6 254.7 630.8 254.8 631.0 255.5 631.2 254.7 631.4 254.9 631.6 255.0 631.8 256.4 632.0 255.8 632.2 254.6 632.4 254.8 632.6 254.9 632.8 254.4 633.0 255.1 633.2 254.5 633.4 255.7 633.6 254.4 633.8 255.6 634.0 255.4 634.2 256.6 634.4 255.8 634.6 254.4 634.8 255.6 635.0 255.2 635.2 254.1 635.4 255.3 635.6 256.2 635.8 254.8 636.0 254.2 636.2 255.6 636.4 255.5 636.6 255.4 636.8 256.0 637.0 255.1 637.2 256.5 637.4 254.6 637.6 254.2 637.8 256.6 638.0 254.4 638.2 256.4 638.4 254.3 638.6 254.8 638.8 255.7 639.0 255.8 639.2 255.5 639.4 256.3 639.6 256.4 639.8 254.7 640.0 255.2 640.2 255.2 640.4 253.9 640.6 256.0 640.8 256.2 641.0 255.3 641.2 255.5 641.4 254.0 641.6 254.4 641.8 254.4 642.0 256.3 642.2 256.1 642.4 255.3 642.6 255.3 642.8 255.9 643.0 256.0 643.2 254.1 643.4 255.5 643.6 256.2 643.8 254.5 644.0 254.2 644.2 255.3 644.4 255.5 644.6 255.6 644.8 255.4 645.0 255.0 645.2 255.1 645.4 254.6 645.6 255.7 645.8 256.0 646.0 255.9 646.2 255.0 646.4 254.4 646.6 255.7 646.8 256.4 647.0 256.9 647.2 255.6 647.4 255.6 647.6 254.6 647.8 255.4 648.0 256.0 648.2 255.6 648.4 255.7 648.6 256.2 648.8 254.2 649.0 255.2 649.2 255.2 649.4 255.5 649.6 255.7 649.8 255.3 650.0 255.2 650.2 254.8 650.4 255.6 650.6 255.1 650.8 255.5 651.0 255.3 651.2 255.6 651.4 256.1 651.6 256.0 651.8 254.5 652.0 255.6 652.2 255.7 652.4 254.1 652.6 254.4 652.8 255.9 653.0 255.8 653.2 254.6 653.4 255.6 653.6 256.2 653.8 254.7 654.0 255.9 654.2 255.2 654.4 255.8 654.6 256.3 654.8 254.3 655.0 254.8 655.2 255.0 655.4 255.7 655.6 255.1 655.8 255.1 656.0 255.1 656.2 254.9 656.4 254.9 656.6 255.3 656.8 255.6 657.0 255.6 657.2 255.3 657.4 256.2 657.6 256.6 657.8 255.8 658.0 254.9 658.2 255.8 658.4 255.1 658.6 255.0 658.8 255.6 659.0 255.3 659.2 256.4 659.4 256.9 659.6 255.2 659.8 255.1 660.0 256.9 660.2 255.5 660.4 256.1 660.6 257.0 660.8 256.2 661.0 254.9 661.2 257.7 661.4 255.9 661.6 256.7 661.8 256.4 662.0 256.3 662.2 255.8 662.4 255.6 662.6 255.8 662.8 255.7 663.0 255.0 663.2 256.3 663.4 257.2 663.6 255.9 663.8 257.1 664.0 257.2 664.2 255.9 664.4 256.4 664.6 256.0 664.8 255.0 665.0 256.3 665.2 256.4 665.4 256.3 665.6 257.2 665.8 255.8 666.0 255.4 666.2 256.0 666.4 256.3 666.6 256.5 666.8 254.9 667.0 255.7 667.2 255.8 667.4 256.8 667.6 255.6 667.8 255.6 668.0 255.7 668.2 257.0 668.4 255.7 668.6 256.5 668.8 255.8 669.0 256.8 669.2 256.2 669.4 256.5 669.6 256.4 669.8 256.2 670.0 256.5 670.2 256.6 670.4 256.4 670.6 255.8 670.8 256.2 671.0 257.1 671.2 256.2"/>
<path stroke="#ff0000" d="M107.6 331.1 107.8 329.0 108.0 334.1 108.2 330.0 108.4 331.2 108.6 334.8 108.8 327.5 109.0 324.3 109.2 327.1 109.4 333.7 109.6 332.3 109.8 328.6 110.0 330.1 110.2 332.3 110.4 331.1 110.6 332.5 110.8 333.5 111.0 332.6 111.2 333.3 111.4 327.1 111.6 330.9 111.8 331.5 112.0 336.8 112.2 332.9 112.4 327.6 112.6 336.9 112.8 330.7 113.0 334.5 113.2 328.8 113.4 331.3 113.6 331.7 113.8 337.2 114.0 334.7 114.2 335.2 114.4 334.6 114.6 334.9 114.8 335.4 115.0 335.8 115.2 336.5 115.4 332.9 115.6 338.4 115.8 335.5 116.0 337.3 116.2 333.4 116.4 335.0 116.6 334.1 116.8 335.4 117.0 331.4 117.2 332.0 117.4 330.0 117.6 337.1 117.8 334.8 118.0 339.6 118.2 338.3 118.4 332.8 118.6 337.7 118.8 334.4 119.0 336.2 119.2 334.5 119.4 332.2 119.6 332.1 119.8 330.6 120.0 335.5 120.2 331.5 120.4 331.6 120.6 337.5 120.8 331.5 121.0 334.6 121.2 333.3 121.4 335.9 121.6 334.1 121.8 336.3 122.0 335.4 122.2 332.9 122.4 334.0 122.6 333.5 122.8 337.1 123.0 332.0 123.2 334.4 123.4 334.0 123.6 328.4 123.8 332.6 124.0 337.3 124.2 336.6 124.4 331.7 124.6 332.2 124.8 330.4 125.0 335.4 125.2 330.6 125.4 330.9 125.6 338.5 125.8 331.6 126.0 332.0 126.2 331.1 126.4 332.0 126.6 333.4 126.8 332.6 127.0 330.3 127.2 329.8 127.4 332.4 127.6 332.8 127.8 333.5 128.0 334.6 128.2 331.7 128.4 336.5 128.6 337.5 128.8 331.4 129.0 332.2 129.2 334.5 129.4 336.3 129.6 332.6 129.8 331.9 130.0 334.9 130.2 334.4 130.4 338.5 130.6 337.7 130.8 336.5 131.0 331.6 131.2 336.4 131.4 336.0 131.6 332.1 131.8 332.1 132.0 335.6 132.2 335.2 132.4 335.2 132.6 337.7 132.8 337.0 133.0 336.7 133.2 337.4 133.4 335.9 133.6 341.1 133.8 334.2 134.0 338.2 134.2 332.6 134.4 337.4 134.6 337.2 134.8 336.7 135.0 335.5 135.2 336.9 135.4 334.9 135.6 333.2 135.8 333.5 136.0 339.1 136.2 338.7 136.4 334.5 136.6 335.5 136.8 336.2 137.0 338.5 137.2 331.8 137.4 339.2 137.6 339.4 137.8 333.2 138.0 335.6 138.2 334.9 138.4 337.8 138.6 331.6 138.8 336.4 139.0 337.9 139.2 336.9 139.4 337.9 139.6 339.5 139.8 334.0 140.0 334.8 140.2 336.3 140.4 335.7 140.6 340.2 140.8 339.0 141.0 337.2 141.2 340.9 141.4 335.1 141.6 333.9 141.8 335.4 142.0 334.8 142.2 338.7 142.4 339.7 142.6 334.6 142.8 336.1 143.0 338.6 143.2 336.1 143.4 339.6 143.6 339.8 143.8 340.9 144.0 334.6 144.2 335.8 144.4 335.6 144.6 340.1 144.8 342.3 145.0 336.3 145.2 339.9 145.4 338.3 145.6 340.6 145.8 338.1 146.0 340.8 146.2 337.7 146.4 336.6 146.6 339.3 146.8 335.6 147.0 340.7 147.2 337.2 147.4 339.2 147.6 339.8 147.8 335.4 148.0 340.3 148.2 338.3 148.4 337.1 148.6 339.9 148.8 338.8 149.0 343.6 149.2 336.8 149.4 337.6 149.6 342.8 149.8 335.6 150.0 337.9 150.2 340.1 150.4 339.2 150.6 336.6 150.8 343.7 151.0 342.1 151.2 337.9 151.4 338.3 151.6 339.0 151.8 339.5 152.0 342.3 152.2 338.0 152.4 342.5 152.6 335.4 152.8 338.8 153.0 339.4 153.2 337.8 153.4 334.1 153.6 337.5 153.8 339.0 154.0 336.7 154.2 337.7 154.4 336.9 154.6 338.2 154.8 339.0 155.0 337.3 155.2 338.1 155.4 338.5 155.6 339.1 155.8 341.6 156.0 336.9 156.2 340.7 156.4 339.1 156.6 340.6 156.8 339.1 157.0 336.0 157.2 337.0 157.4 335.6 157.6 333.4 157.8 336.9 158.0 339.6 158.2 336.1 158.4 335.7 158.6 336.2 158.8 335.9 159.0 338.2 159.2 333.8 159.4 335.6 159.6 335.8 159.8 334.6 160.0 339.3 160.2 334.6 160.4 334.2 160.6 335.1 160.8 337.8 161.0 336.7 161.2 335.7 161.4 334.5 161.6 334.3 161.8 335.7 162.0 337.2 162.2 336.8 162.4 333.5 162.6 337.0 162.8 330.9 163.0 334.1 163.2 332.0 163.4 333.0 163.6 332.8 163.8 334.8 164.0 333.0 164.2 337.5 164.4 330.3 164.6 332.2 164.8 333.1 165.0 334.6 165.2 333.2 165.4 330.9 165.6 330.0 165.8 333.0 166.0 334.1 166.2 331.7 166.4 334.3 166.6 329.8 166.8 331.3 167.0 329.9 167.2 333.6 167.4 332.3 167.6 330.3 167.8 329.5 168.0 332.3 168.2 332.4 168.4 334.4 168.6 332.4 168.8 330.3 169.0 331.1 169.2 327.1 169.4 328.6 169.6 324.0 169.8 320.2 170.0 320.0 170.2 320.0 170.4 318.2 170.6 318.9 170.8 317.1 171.0 314.5 171.2 314.8 171.4 313.6 171.6 311.7 171.8 310.6 172.0 299.9 172.2 289.5 172.4 288.3 172.6 287.2 172.8 286.9 173.0 285.0 173.2 283.1 173.4 281.3 173.6 279.6 173.8 277.9 174.0 279.2 174.2 284.5 174.4 296.0 174.6 310.7 174.8 310.0 175.0 311.2 175.2 310.9 175.4 312.8 175.6 312.4 175.8 319.0 176.0 323.8 176.2 331.5 176.4 332.2 176.6 331.0 176.8 332.3 177.0 328.1 177.2 330.5 177.4 331.5 177.6 334.0 177.8 330.3 178.0 330.2 178.2 334.2 178.4 333.9 178.6 331.0 178.8 331.6 179.0 335.1 179.2 334.4 179.4 331.5 179.6 337.7 179.8 332.8 180.0 340.0 180.2 338.4 180.4 338.8 180.6 337.7 180.8 336.9 181.0 338.7 181.2 339.8 181.4 334.5 181.6 334.5 181.8 342.1 182.0 334.7 182.2 336.8 182.4 338.1 182.6 341.4 182.8 341.3 183.0 338.9 183.2 338.9 183.4 343.5 183.6 338.7 183.8 339.9 184.0 336.4 184.2 337.5 184.4 337.7 184.6 342.0 184.8 338.8 185.0 338.5 185.2 340.1 185.4 338.2 185.6 339.1 185.8 342.8 186.0 342.2 186.2 338.0 186.4 342.0 186.6 340.3 186.8 340.0 187.0 341.3 187.2 344.5 187.4 339.7 187.6 341.1 187.8 341.9 188.0 341.6 188.2 338.0 188.4 339.5 188.6 344.1 188.8 341.1 189.0 338.2 189.2 337.1 189.4 339.3 189.6 340.8 189.8 337.2 190.0 339.4 190.2 341.1 190.4 345.5 190.6 339.0 190.8 342.6 191.0 340.3 191.2 340.5 191.4 341.1 191.6 337.3 191.8 341.6 192.0 339.6 192.2 343.3 192.4 339.2 192.6 339.2 192.8 337.8 193.0 342.4 193.2 341.1 193.4 340.5 193.6 338.1 193.8 341.2 194.0 342.8 194.2 343.9 194.4 338.5 194.6 341.2 194.8 343.0 195.0 341.3 195.2 344.0 195.4 340.9 195.6 337.6 195.8 342.0 196.0 336.2 196.2 338.2 196.4 339.6 196.6 336.9 196.8 339.9 197.0 343.4 197.2 337.5 197.4 342.6 197.6 342.6 197.8 338.4 198.0 338.8 198.2 343.1 198.4 343.3 198.6 340.7 198.8 345.0 199.0 340.7 199.2 339.7 199.4 342.2 199.6 341.7 199.8 341.7 200.0 341.4 200.2 337.9 200.4 342.4 200.6 340.2 200.8 342.7 201.0 339.7 201.2 343.1 201.4 345.8 201.6 339.1 201.8 338.1 202.0 345.8 202.2 344.1 202.4 340.1 202.6 345.8 202.8 341.8 203.0 343.1 203.2 341.5 203.4 341.0 203.6 345.3 203.8 342.5 204.0 344.6 204.2 343.1 204.4 346.5 204.6 343.9 204.8 342.5 205.0 342.9 205.2 338.7 205.4 345.3 205.6 340.6 205.8 346.0 206.0 338.2 206.2 344.4 206.4 344.1 206.6 343.3 206.8 340.9 207.0 344.2 207.2 340.8 207.4 341.7 207.6 342.2 207.8 346.5 208.0 340.1 208.2 340.7 208.4 344.5 208.6 341.7 208.8 346.2 209.0 343.7 209.2 340.0 209.4 340.0 209.6 338.9 209.8 342.5 210.0 345.1 210.2 339.3 210.4 340.5 210.6 339.4 210.8 343.5 211.0 341.8 211.2 341.8 211.4 339.3 211.6 345.0 211.8 342.2 212.0 343.8 212.2 339.8 212.4 341.8 212.6 342.5 212.8 342.8 213.0 342.3 213.2 344.5 213.4 339.9 213.6 344.0 213.8 344.4 214.0 344.3 214.2 347.9 214.4 341.2 214.6 342.0 214.8 341.0 215.0 344.4 215.2 343.7 215.4 342.5 215.6 345.6 215.8 343.1 216.0 343.6 216.2 343.8 216.4 339.8 216.6 345.9 216.8 343.9 217.0 339.1 217.2 346.1 217.4 345.0 217.6 340.8 217.8 341.1 218.0 339.0 218.2 344.9 218.4 338.6 218.6 345.6 218.8 344.4 219.0 340.2 219.2 341.2 219.4 339.5 219.6 343.4 219.8 340.1 220.0 338.8 220.2 345.3 220.4 343.6 220.6 339.5 220.8 347.3 221.0 343.9 221.2 339.6 221.4 339.6 221.6 344.4 221.8 339.8 222.0 345.6 222.2 341.9 222.4 344.5 222.6 342.4 222.8 344.4 223.0 343.8 223.2 343.8 223.4 339.5 223.6 343.9 223.8 342.6 224.0 339.4 224.2 340.6 224.4 342.9 224.6 343.0 224.8 341.4 225.0 341.3 225.2 340.5 225.4 341.3 225.6 344.4 225.8 341.9 226.0 344.3 226.2 339.9 226.4 345.6 226.6 345.1 226.8 340.2 227.0 342.6 227.2 340.0 227.4 343.0 227.6 340.1 227.8 340.9 228.0 344.7 228.2 341.6 228.4 343.1 228.6 339.9 228.8 343.4 229.0 343.9 229.2 345.0 229.4 344.5 229.6 344.7 229.8 342.4 230.0 344.9 230.2 339.9 230.4 337.2 230.6 341.3 230.8 342.6 231.0 344.0 231.2 341.3 231.4 341.4 231.6 343.6 231.8 344.6 232.0 343.5 232.2 343.0 232.4 344.7 232.6 346.1 232.8 346.0 233.0 342.4 233.2 346.3 233.4 342.1 233.6 342.5 233.8 346.2 234.0 344.3 234.2 343.5 234.4 342.5 234.6 342.8 234.8 343.4 235.0 343.9 235.2 341.9 235.4 341.9 235.6 343.8 235.8 349.3 236.0 349.7 236.2 347.6 236.4 349.9 236.6 351.0 236.8 348.0 237.0 350.7 237.2 346.7 237.4 345.6 237.6 343.5 237.8 341.2 238.0 344.7 238.2 345.6 238.4 341.5 238.6 342.7 238.8 343.1 239.0 339.6 239.2 342.7 239.4 340.6 239.6 343.1 239.8 342.9 240.0 341.1 240.2 340.5 240.4 342.2 240.6 345.2 240.8 344.2 241.0 343.2 241.2 342.9 241.4 344.5 241.6 340.1 241.8 339.0 242.0 345.2 242.2 340.9 242.4 340.2 242.6 345.2 242.8 343.7 243.0 338.4 243.2 341.4 243.4 345.7 243.6 340.6 243.8 341.1 244.0 342.9 244.2 344.4 244.4 340.2 244.6 341.7 244.8 342.4 245.0 340.7 245.2 342.9 245.4 344.0 245.6 344.6 245.8 340.3 246.0 341.0 246.2 340.0 246.4 339.7 246.6 339.9 246.8 341.2 247.0 343.4 247.2 339.7 247.4 338.0 247.6 339.6 247.8 335.0 248.0 333.2 248.2 329.6 248.4 333.3 248.6 329.9 248.8 332.9 249.0 330.6 249.2 331.7 249.4 331.2 249.6 329.8 249.8 327.2 250.0 329.4 250.2 326.6 250.4 328.6 250.6 327.5 250.8 329.0 251.0 329.2 251.2 327.0 251.4 329.2 251.6 331.0 251.8 330.1 252.0 324.6 252.2 324.9 252.4 326.5 252.6 325.3 252.8 327.4 253.0 330.6 253.2 332.4 253.4 328.7 253.6 328.6 253.8 330.5 254.0 330.6 254.2 332.3 254.4 333.5 254.6 332.9 254.8 330.8 255.0 332.7 255.2 332.7 255.4 330.7 255.6 332.5 255.8 336.0 256.0 336.7 256.2 341.0 256.4 337.6 256.6 341.3 256.8 339.1 257.0 337.8 257.2 338.3 257.4 339.9 257.6 338.9 257.8 337.5 258.0 338.9 258.2 340.0 258.4 338.4 258.6 342.4 258.8 340.2 259.0 342.2 259.2 342.2 259.4 342.9 259.6 340.4 259.8 344.4 260.0 341.1 260.2 344.6 260.4 344.0 260.6 340.7 260.8 341.8 261.0 344.8 261.2 341.6 261.4 342.6 261.6 341.0 261.8 341.7 262.0 342.7 262.2 341.8 262.4 345.1 262.6 342.0 262.8 343.1 263.0 342.2 263.2 343.0 263.4 342.0 263.6 346.5 263.8 340.5 264.0 341.4 264.2 345.4 264.4 343.8 264.6 341.8 264.8 346.7 265.0 346.4 265.2 347.3 265.4 349.3 265.6 347.7 265.8 343.4 266.0 345.6 266.2 345.8 266.4 345.2 266.6 344.7 266.8 347.5 267.0 346.4 267.2 345.7 267.4 347.9 267.6 346.9 267.8 344.1 268.0 346.3 268.2 347.7 268.4 343.8 268.6 344.9 268.8 344.4 269.0 344.6 269.2 347.5 269.4 345.4 269.6 347.4 269.8 348.1 270.0 348.1 270.2 345.2 270.4 345.7 270.6 348.6 270.8 347.8 271.0 344.2 271.2 347.1 271.4 345.1 271.6 346.3 271.8 347.3 272.0 349.0 272.2 346.6 272.4 348.4 272.6 350.7 272.8 349.5 273.0 347.3 273.2 344.3 273.4 343.6 273.6 344.3 273.8 345.6 274.0 346.1 274.2 346.5 274.4 349.4 274.6 345.0 274.8 345.4 275.0 345.3 275.2 349.2 275.4 348.5 275.6 349.9 275.8 344.7 276.0 348.0 276.2 345.7 276.4 345.7 276.6 347.6 276.8 345.6 277.0 346.7 277.2 347.0 277.4 348.3 277.6 344.9 277.8 348.0 278.0 347.6 278.2 344.0 278.4 347.7 278.6 347.6 278.8 344.7 279.0 347.4 279.2 348.3 279.4 349.7 279.6 345.8 279.8 346.9 280.0 349.9 280.2 349.0 280.4 347.3 280.6 346.1 280.8 348.5 281.0 346.2 281.2 347.8 281.4 347.5 281.6 346.6 281.8 346.2 282.0 347.5 282.2 346.0 282.4 345.0 282.6 344.9 282.8 347.0 283.0 345.6 283.2 346.4 283.4 346.7 283.6 347.7 283.8 344.4 284.0 346.9 284.2 344.0 284.4 348.0 284.6 343.9 284.8 348.4 285.0 347.1 285.2 343.4 285.4 345.9 285.6 345.1 285.8 346.1 286.0 346.8 286.2 345.7 286.4 349.3 286.6 348.8 286.8 343.8 287.0 345.2 287.2 346.2 287.4 344.2 287.6 345.3 287.8 347.8 288.0 347.7 288.2 344.0 288.4 345.7 288.6 346.1 288.8 346.9 289.0 344.4 289.2 345.1 289.4 343.3 289.6 346.6 289.8 346.9 290.0 341.2 290.2 346.6 290.4 346.2 290.6 345.8 290.8 344.8 291.0 342.2 291.2 346.8 291.4 343.8 291.6 345.2 291.8 344.5 292.0 342.9 292.2 344.6 292.4 344.8 292.6 341.8 292.8 341.1 293.0 343.8 293.2 340.5 293.4 344.9 293.6 340.1 293.8 339.4 294.0 340.7 294.2 339.1 294.4 340.0 294.6 340.2 294.8 339.5 295.0 338.4 295.2 336.3 295.4 336.3 295.6 337.6 295.8 337.3 296.0 333.8 296.2 332.8 296.4 334.7 296.6 330.9 296.8 326.7 297.0 327.6 297.2 326.9 297.4 323.6 297.6 324.9 297.8 322.1 298.0 321.6 298.2 322.0 298.4 320.3 298.6 317.0 298.8 316.5 299.0 312.8 299.2 316.5 299.4 313.5 299.6 310.4 299.8 305.5 300.0 303.9 300.2 299.4 300.4 297.3 300.6 297.4 300.8 295.6 301.0 295.3 301.2 295.8 301.4 294.4 301.6 291.7 301.8 294.4 302.0 292.0 302.2 292.2 302.4 295.9 302.6 296.2 302.8 293.7 303.0 293.3 303.2 293.6 303.4 297.3 303.6 294.0 303.8 298.9 304.0 300.9 304.2 295.6 304.4 298.3 304.6 301.9 304.8 300.6 305.0 305.5 305.2 309.4 305.4 307.2 305.6 307.6 305.8 308.2 306.0 310.9 306.2 311.8 306.4 312.4 306.6 314.6 306.8 319.1 307.0 321.3 307.2 322.0 307.4 323.9 307.6 324.0 307.8 324.0 308.0 324.3 308.2 325.1 308.4 329.2 308.6 329.7 308.8 333.0 309.0 331.0 309.2 334.3 309.4 335.0 309.6 335.4 309.8 337.0 310.0 338.7 310.2 335.9 310.4 339.3 310.6 339.5 310.8 340.5 311.0 343.5 311.2 344.1 311.4 341.9 311.6 343.1 311.8 345.1 312.0 343.0 312.2 343.9 312.4 344.5 312.6 346.5 312.8 347.7 313.0 344.5 313.2 342.8 313.4 348.9 313.6 347.0 313.8 345.6 314.0 347.4 314.2 347.1 314.4 346.4 314.6 345.9 314.8 347.8 315.0 347.5 315.2 347.6 315.4 345.9 315.6 348.4 315.8 348.9 316.0 347.0 316.2 348.8 316.4 349.4 316.6 349.6 316.8 350.8 317.0 351.0 317.2 350.3 317.4 348.3 317.6 349.6 317.8 351.7 318.0 348.4 318.2 350.3 318.4 351.2 318.6 348.7 318.8 349.1 319.0 350.2 319.2 349.2 319.4 350.0 319.6 349.2 319.8 352.1 320.0 349.2 320.2 352.9 320.4 351.6 320.6 350.2 320.8 349.2 321.0 352.1 321.2 350.4 321.4 352.0 321.6 352.8 321.8 350.7 322.0 354.2 322.2 353.3 322.4 355.7 322.6 352.0 322.8 353.2 323.0 353.2 323.2 351.1 323.4 352.1 323.6 351.7 323.8 353.5 324.0 350.2 324.2 354.4 324.4 350.9 324.6 355.7 324.8 353.4 325.0 350.6 325.2 353.2 325.4 354.1 325.6 352.2 325.8 354.5 326.0 355.1 326.2 352.1 326.4 352.9 326.6 354.6 326.8 353.5 327.0 351.3 327.2 353.8 327.4 354.1 327.6 351.8 327.8 351.8 328.0 353.8 328.2 354.5 328.4 353.7 328.6 355.4 328.8 353.0 329.0 354.2 329.2 352.1 329.4 355.0 329.6 354.8 329.8 355.2 330.0 353.5 330.2 354.8 330.4 352.9 330.6 354.8 330.8 353.3 331.0 354.0 331.2 356.1 331.4 354.3 331.6 352.8 331.8 355.8 332.0 354.9 332.2 353.4 332.4 353.2 332.6 353.0 332.8 353.6 333.0 357.8 333.2 354.1 333.4 351.6 333.6 355.6 333.8 354.1 334.0 357.4 334.2 352.4 334.4 356.7 334.6 354.3 334.8 352.2 335.0 351.4 335.2 355.8 335.4 352.2 335.6 354.0 335.8 353.9 336.0 356.2 336.2 355.8 336.4 353.6 336.6 355.9 336.8 357.4 337.0 355.4 337.2 357.9 337.4 355.0 337.6 354.7 337.8 354.5 338.0 354.4 338.2 356.6 338.4 357.8 338.6 354.8 338.8 357.3 339.0 356.0 339.2 357.5 339.4 358.6 339.6 356.2 339.8 359.1 340.0 358.1 340.2 355.0 340.4 358.7 340.6 356.6 340.8 355.9 341.0 357.2 341.2 356.3 341.4 358.1 341.6 357.7 341.8 357.3 342.0 354.9 342.2 353.9 342.4 354.4 342.6 355.7 342.8 353.4 343.0 356.3 343.2 353.6 343.4 354.7 343.6 355.9 343.8 357.2 344.0 355.5 344.2 353.8 344.4 357.0 344.6 358.3 344.8 356.5 345.0 354.2 345.2 356.4 345.4 354.9 345.6 357.0 345.8 357.1 346.0 355.8 346.2 353.5 346.4 355.3 346.6 353.3 346.8 357.3 347.0 353.5 347.2 355.6 347.4 355.7 347.6 355.7 347.8 355.6 348.0 354.2 348.2 356.9 348.4 354.9 348.6 355.2 348.8 353.6 349.0 354.5 349.2 356.3 349.4 356.8 349.6 355.3 349.8 356.8 350.0 353.4 350.2 353.2 350.4 356.6 350.6 353.3 350.8 355.5 351.0 354.6 351.2 355.2 351.4 351.8 351.6 352.5 351.8 355.1 352.0 354.3 352.2 354.4 352.4 356.6 352.6 353.8 352.8 352.6 353.0 354.3 353.2 353.5 353.4 353.4 353.6 354.6 353.8 355.2 354.0 355.2 354.2 356.1 354.4 355.8 354.6 352.3 354.8 353.6 355.0 354.6 355.2 354.6 355.4 351.7 355.6 356.7 355.8 356.7 356.0 355.8 356.2 353.2 356.4 355.9 356.6 352.7 356.8 354.1 357.0 355.5 357.2 356.2 357.4 357.9 357.6 355.0 357.8 354.6 358.0 353.9 358.2 357.6 358.4 355.4 358.6 354.0 358.8 354.7 359.0 356.9 359.2 355.7 359.4 355.5 359.6 354.4 359.8 355.1 360.0 354.1 360.2 356.8 360.4 357.9 360.6 357.8 360.8 356.9 361.0 355.7 361.2 354.5 361.4 356.1 361.6 357.7 361.8 357.1 362.0 355.6 362.2 358.2 362.4 354.7 362.6 356.9 362.8 357.2 363.0 355.3 363.2 356.3 363.4 357.3 363.6 357.5 363.8 356.7 364.0 355.5 364.2 356.5 364.4 356.0 364.6 355.3 364.8 355.0 365.0 357.2 365.2 356.7 365.4 354.5 365.6 354.1 365.8 354.0 366.0 357.6 366.2 354.5 366.4 355.4 366.6 357.2 366.8 356.3 367.0 355.8 367.2 353.7 367.4 355.7 367.6 356.0 367.8 353.0 368.0 355.4 368.2 354.2 368.4 355.3 368.6 354.4 368.8 352.5 369.0 353.8 369.2 352.2 369.4 351.7 369.6 351.3 369.8 353.1 370.0 353.1 370.2 352.6 370.4 352.0 370.6 353.5 370.8 351.6 371.0 350.4 371.2 350.1 371.4 351.3 371.6 349.6 371.8 349.6 372.0 349.1 372.2 351.6 372.4 352.5 372.6 349.7 372.8 348.7 373.0 349.1 373.2 351.2 373.4 352.8 373.6 349.1 373.8 352.7 374.0 352.5 374.2 351.9 374.4 351.0 374.6 351.6 374.8 351.4 375.0 347.0 375.2 350.0 375.4 353.2 375.6 349.3 375.8 348.6 376.0 352.0 376.2 352.2 376.4 351.0 376.6 351.2 376.8 351.9 377.0 350.5 377.2 348.8 377.4 351.7 377.6 349.2 377.8 352.0 378.0 352.7 378.2 352.6 378.4 352.6 378.6 350.0 378.8 351.4 379.0 350.7 379.2 353.8 379.4 354.5 379.6 351.5 379.8 354.0 380.0 352.0 380.2 353.0 380.4 353.4 380.6 354.6 380.8 351.8 381.0 353.4 381.2 352.8 381.4 354.8 381.6 353.9 381.8 356.4 382.0 355.1 382.2 354.5 382.4 354.8 382.6 356.4 382.8 357.0 383.0 353.6 383.2 355.9 383.4 356.6 383.6 356.4 383.8 354.3 384.0 355.1 384.2 357.3 384.4 356.0 384.6 353.7 384.8 354.7 385.0 354.9 385.2 355.2 385.4 357.4 385.6 357.5 385.8 357.1 386.0 356.0 386.2 356.6 386.4 354.9 386.6 356.8 386.8 355.9 387.0 357.9 387.2 354.1 387.4 356.7 387.6 355.1 387.8 356.8 388.0 354.7 388.2 355.9 388.4 356.6 388.6 356.8 388.8 356.7 389.0 355.6 389.2 356.1 389.4 357.0 389.6 357.5 389.8 356.7 390.0 354.9 390.2 357.7 390.4 355.1 390.6 356.4 390.8 357.2 391.0 355.9 391.2 354.7 391.4 354.5 391.6 356.3 391.8 356.8 392.0 357.5 392.2 357.2 392.4 357.3 392.6 356.7 392.8 357.2 393.0 354.5 393.2 356.6 393.4 358.0 393.6 354.7 393.8 355.8 394.0 356.3 394.2 355.9 394.4 357.9 394.6 353.6 394.8 354.7 395.0 356.5 395.2 354.6 395.4 357.0 395.6 354.6 395.8 358.0 396.0 355.7 396.2 354.3 396.4 358.3 396.6 356.8 396.8 355.5 397.0 355.3 397.2 355.2 397.4 358.3 397.6 355.6 397.8 356.1 398.0 357.1 398.2 355.4 398.4 358.3 398.6 356.2 398.8 358.0 399.0 356.6 399.2 356.5 399.4 358.0 399.6 358.6 399.8 358.0 400.0 358.2 400.2 355.8 400.4 357.9 400.6 357.6 400.8 357.0 401.0 356.2 401.2 358.6 401.4 356.8 401.6 357.5 401.8 356.9 402.0 357.9 402.2 359.3 402.4 357.1 402.6 357.4 402.8 358.5 403.0 359.7 403.2 359.6 403.4 359.5 403.6 359.1 403.8 356.9 404.0 359.3 404.2 358.4 404.4 357.5 404.6 358.1 404.8 359.7 405.0 359.3 405.2 359.8 405.4 359.3 405.6 359.2 405.8 359.8 406.0 359.6 406.2 359.6 406.4 359.5 406.6 359.0 406.8 357.7 407.0 359.8 407.2 359.2 407.4 360.3 407.6 358.7 407.8 357.6 408.0 360.0 408.2 359.1 408.4 360.0 408.6 356.5 408.8 356.9 409.0 357.0 409.2 357.6 409.4 359.3 409.6 357.4 409.8 357.6 410.0 359.2 410.2 358.8 410.4 359.9 410.6 359.2 410.8 357.3 411.0 358.6 411.2 359.4 411.4 358.0 411.6 357.1 411.8 358.8 412.0 358.3 412.2 359.9 412.4 356.7 412.6 359.7 412.8 359.7 413.0 358.8 413.2 360.7 413.4 359.4 413.6 357.8 413.8 358.9 414.0 358.2 414.2 357.8 414.4 360.3 414.6 357.1 414.8 358.5 415.0 358.7 415.2 358.9 415.4 359.2 415.6 358.7 415.8 357.9 416.0 357.6 416.2 359.1 416.4 360.5 416.6 357.9 416.8 358.8 417.0 359.0 417.2 357.4 417.4 358.2 417.6 358.9 417.8 357.2 418.0 359.2 418.2 356.8 418.4 358.7 418.6 360.2 418.8 359.2 419.0 356.3 419.2 357.7 419.4 357.4 419.6 358.3 419.8 359.5 420.0 359.9 420.2 358.5 420.4 358.6 420.6 360.0 420.8 357.9 421.0 359.2 421.2 357.2 421.4 360.4 421.6 358.1 421.8 360.6 422.0 360.8 422.2 358.8 422.4 360.6 422.6 358.7 422.8 360.7 423.0 360.2 423.2 358.1 423.4 360.9 423.6 358.0 423.8 359.2 424.0 360.0 424.2 357.7 424.4 359.1 424.6 358.6 424.8 357.8 425.0 359.8 425.2 359.0 425.4 361.1 425.6 358.1 425.8 358.2 426.0 361.0 426.2 359.3 426.4 359.4 426.6 357.7 426.8 360.3 427.0 358.8 427.2 360.9 427.4 359.9 427.6 360.1 427.8 358.9 428.0 359.4 428.2 360.8 428.4 358.3 428.6 360.4 428.8 358.7 429.0 360.5 429.2 358.6 429.4 357.5 429.6 358.6 429.8 359.3 430.0 357.1 430.2 359.4 430.4 359.4 430.6 358.6 430.8 359.0 431.0 357.8 431.2 359.2 431.4 359.9 431.6 357.1 431.8 359.2 432.0 356.9 432.2 360.5 432.4 359.7 432.6 360.7 432.8 359.9 433.0 358.7 433.2 359.3 433.4 358.1 433.6 358.3 433.8 358.7 434.0 359.1 434.2 358.0 434.4 359.7 434.6 359.0 434.8 359.2 435.0 358.4 435.2 358.1 435.4 360.9 435.6 357.6 435.8 357.1 436.0 358.5 436.2 358.5 436.4 358.9 436.6 359.2 436.8 359.4 437.0 359.8 437.2 357.7 437.4 357.9 437.6 357.1 437.8 357.0 438.0 359.6 438.2 357.4 438.4 358.6 438.6 358.7 438.8 357.3 439.0 358.5 439.2 357.1 439.4 356.6 439.6 358.8 439.8 358.0 440.0 359.2 440.2 358.7 440.4 357.4 440.6 357.1 440.8 358.9 441.0 358.3 441.2 357.7 441.4 357.5 441.6 358.0 441.8 356.6 442.0 357.2 442.2 357.5 442.4 356.1 442.6 356.1 442.8 357.9 443.0 359.4 443.2 356.8 443.4 358.7 443.6 357.1 443.8 357.7 444.0 357.5 444.2 358.9 444.4 359.0 444.6 357.9 444.8 356.3 445.0 357.8 445.2 356.6 445.4 357.6 445.6 359.5 445.8 358.9 446.0 358.9 446.2 358.9 446.4 358.3 446.6 358.6 446.8 355.8 447.0 357.1 447.2 357.1 447.4 358.2 447.6 359.0 447.8 356.9 448.0 358.1 448.2 356.8 448.4 358.1 448.6 357.8 448.8 359.0 449.0 358.0 449.2 358.1 449.4 357.2 449.6 356.5 449.8 356.8 450.0 358.4 450.2 358.9 450.4 356.3 450.6 359.6 450.8 358.3 451.0 358.8 451.2 357.0 451.4 357.6 451.6 358.7 451.8 356.2 452.0 359.6 452.2 357.6 452.4 358.0 452.6 358.4 452.8 358.2 453.0 359.9 453.2 358.0 453.4 357.4 453.6 357.5 453.8 357.3 454.0 359.1 454.2 358.4 454.4 358.0 454.6 357.6 454.8 357.0 455.0 359.4 455.2 358.1 455.4 359.7 455.6 359.5 455.8 359.8 456.0 357.9 456.2 356.5 456.4 357.2 456.6 358.0 456.8 357.1 457.0 356.4 457.2 358.3 457.4 359.7 457.6 356.4 457.8 356.6 458.0 358.2 458.2 359.0 458.4 357.2 458.6 356.9 458.8 357.1 459.0 357.6 459.2 358.1 459.4 358.9 459.6 356.5 459.8 356.1 460.0 357.4 460.2 357.1 460.4 355.8 460.6 356.8 460.8 357.6 461.0 357.5 461.2 357.7 461.4 356.8 461.6 355.6 461.8 356.3 462.0 357.1 462.2 357.7 462.4 358.5 462.6 356.5 462.8 357.9 463.0 356.2 463.2 358.0 463.4 358.1 463.6 357.2 463.8 358.3 464.0 358.8 464.2 358.5 464.4 356.3 464.6 356.5 464.8 355.5 465.0 356.8 465.2 358.9 465.4 356.5 465.6 357.3 465.8 356.0 466.0 357.9 466.2 357.1 466.4 358.4 466.6 357.0 466.8 359.2 467.0 356.6 467.2 356.9 467.4 359.0 467.6 358.9 467.8 357.9 468.0 358.9 468.2 357.9 468.4 356.2 468.6 358.8 468.8 359.1 469.0 356.4 469.2 358.3 469.4 358.4 469.6 357.5 469.8 357.6 470.0 357.0 470.2 356.4 470.4 359.3 470.6 358.4 470.8 359.0 471.0 358.7 471.2 359.2 471.4 357.9 471.6 359.6 471.8 355.7 472.0 356.0 472.2 356.9 472.4 357.8 472.6 358.0 472.8 359.4 473.0 358.3 473.2 358.6 473.4 357.8 473.6 357.3 473.8 357.2 474.0 356.0 474.2 357.0 474.4 357.0 474.6 355.2 474.8 356.9 475.0 356.4 475.2 355.3 475.4 356.7 475.6 357.2 475.8 356.2 476.0 358.2 476.2 358.0 476.4 358.5 476.6 357.5 476.8 355.9 477.0 355.3 477.2 357.4 477.4 356.3 477.6 356.6 477.8 357.1 478.0 357.9 478.2 356.0 478.4 354.7 478.6 356.1 478.8 359.0 479.0 355.9 479.2 357.5 479.4 355.8 479.6 356.1 479.8 355.5 480.0 357.6 480.2 357.9 480.4 354.6 480.6 358.0 480.8 356.0 481.0 356.6 481.2 356.9 481.4 358.1 481.6 356.4 481.8 356.4 482.0 355.2 482.2 356.9 482.4 356.7 482.6 357.6 482.8 356.6 483.0 357.5 483.2 356.3 483.4 357.5 483.6 356.3 483.8 356.6 484.0 356.4 484.2 356.8 484.4 356.2 484.6 355.5 484.8 357.4 485.0 358.3 485.2 356.4 485.4 358.6 485.6 358.1 485.8 356.8 486.0 356.3 486.2 355.8 486.4 358.9 486.6 358.2 486.8 358.2 487.0 357.2 487.2 356.1 487.4 357.3 487.6 356.0 487.8 357.8 488.0 357.6 488.2 359.0 488.4 357.7 488.6 356.9 488.8 355.7 489.0 356.7 489.2 358.3 489.4 358.2 489.6 357.2 489.8 358.7 490.0 356.4 490.2 358.4 490.4 358.8 490.6 358.4 490.8 357.3 491.0 356.4 491.2 356.8 491.4 359.9 491.6 356.8 491.8 356.7 492.0 358.6 492.2 357.8 492.4 356.7 492.6 357.7 492.8 356.3 493.0 357.3 493.2 355.3 493.4 355.3 493.6 357.6 493.8 357.1 494.0 356.7 494.2 357.4 494.4 357.9 494.6 358.6 494.8 358.4 495.0 356.7 495.2 356.1 495.4 356.7 495.6 355.1 495.8 356.1 496.0 357.8 496.2 354.7 496.4 354.2 496.6 354.9 496.8 355.9 497.0 355.2 497.2 353.8 497.4 355.3 497.6 353.8 497.8 353.6 498.0 354.4 498.2 353.7 498.4 352.6 498.6 353.3 498.8 353.1 499.0 351.2 499.2 352.8 499.4 351.2 499.6 349.1 499.8 348.6 500.0 348.6 500.2 350.6 500.4 348.4 500.6 349.2 500.8 348.2 501.0 346.4 501.2 348.7 501.4 348.1 501.6 348.7 501.8 346.7 502.0 345.2 502.2 345.1 502.4 346.4 502.6 346.3 502.8 344.4 503.0 343.0 503.2 346.1 503.4 343.5 503.6 343.8 503.8 345.4 504.0 343.7 504.2 343.8 504.4 344.4 504.6 344.1 504.8 343.2 505.0 343.7 505.2 343.7 505.4 343.6 505.6 343.8 505.8 343.5 506.0 342.1 506.2 344.0 506.4 342.6 506.6 343.0 506.8 343.2 507.0 343.4 507.2 343.5 507.4 343.9 507.6 344.9 507.8 344.9 508.0 346.7 508.2 344.7 508.4 344.9 508.6 347.7 508.8 345.5 509.0 346.1 509.2 349.2 509.4 348.2 509.6 349.4 509.8 349.5 510.0 349.3 510.2 351.0 510.4 350.3 510.6 350.8 510.8 350.2 511.0 350.7 511.2 352.1 511.4 353.3 511.6 352.9 511.8 352.0 512.0 353.9 512.2 352.7 512.4 353.1 512.6 354.6 512.8 355.0 513.0 354.0 513.2 354.2 513.4 352.7 513.6 353.9 513.8 355.6 514.0 353.9 514.2 355.6 514.4 354.0 514.6 354.1 514.8 355.4 515.0 356.3 515.2 354.8 515.4 354.8 515.6 353.6 515.8 355.7 516.0 354.0 516.2 355.4 516.4 356.2 516.6 354.2 516.8 356.1 517.0 356.2 517.2 355.9 517.4 357.1 517.6 356.4 517.8 354.9 518.0 355.3 518.2 356.0 518.4 356.7 518.6 356.0 518.8 356.6 519.0 355.7 519.2 358.1 519.4 357.9 519.6 355.9 519.8 358.3 520.0 356.9 520.2 357.5 520.4 356.9 520.6 358.5 520.8 357.1 521.0 358.1 521.2 358.8 521.4 358.5 521.6 358.7 521.8 358.1 522.0 357.8 522.2 356.5 522.4 357.9 522.6 357.6 522.8 357.6 523.0 359.1 523.2 357.4 523.4 356.7 523.6 356.6 523.8 357.3 524.0 357.5 524.2 359.5 524.4 356.6 524.6 358.9 524.8 357.2 525.0 358.6 525.2 358.4 525.4 357.9 525.6 359.2 525.8 358.4 526.0 359.5 526.2 358.6 526.4 358.6 526.6 358.0 526.8 358.0 527.0 359.5 527.2 358.6 527.4 359.3 527.6 359.2 527.8 360.0 528.0 358.6 528.2 358.0 528.4 358.5 528.6 359.5 528.8 357.8 529.0 357.6 529.2 358.1 529.4 358.0 529.6 361.1 529.8 358.3 530.0 358.6 530.2 359.6 530.4 359.4 530.6 359.7 530.8 358.7 531.0 358.0 531.2 358.8 531.4 358.1 531.6 358.6 531.8 358.3 532.0 359.7 532.2 360.3 532.4 358.4 532.6 358.6 532.8 358.5 533.0 359.4 533.2 357.0 533.4 359.7 533.6 358.0 533.8 359.3 534.0 358.2 534.2 359.1 534.4 359.4 534.6 358.6 534.8 357.2 535.0 358.9 535.2 356.9 535.4 358.6 535.6 358.7 535.8 357.4 536.0 358.6 536.2 358.1 536.4 358.0 536.6 358.3 536.8 358.1 537.0 357.5 537.2 358.3 537.4 357.6 537.6 357.5 537.8 358.8 538.0 357.0 538.2 357.8 538.4 358.5 538.6 357.6 538.8 359.6 539.0 357.3 539.2 359.0 539.4 356.2 539.6 356.4 539.8 357.8 540.0 358.1 540.2 357.8 540.4 357.3 540.6 358.6 540.8 358.3 541.0 357.5 541.2 358.7 541.4 357.2 541.6 358.6 541.8 357.1 542.0 356.9 542.2 358.9 542.4 356.6 542.6 357.8 542.8 355.9 543.0 358.5 543.2 358.4 543.4 358.4 543.6 356.6 543.8 356.9 544.0 359.3 544.2 357.4 544.4 356.9 544.6 358.5 544.8 357.0 545.0 358.4 545.2 357.0 545.4 357.8 545.6 357.4 545.8 357.4 546.0 356.1 546.2 355.2 546.4 355.4 546.6 355.4 546.8 354.6 547.0 354.7 547.2 354.3 547.4 354.5 547.6 354.6 547.8 355.7 548.0 354.0 548.2 355.6 548.4 353.2 548.6 354.7 548.8 353.8 549.0 352.7 549.2 353.2 549.4 351.2 549.6 353.7 549.8 353.1 550.0 351.2 550.2 351.4 550.4 352.5 550.6 351.4 550.8 352.0 551.0 352.1 551.2 348.8 551.4 351.2 551.6 350.0 551.8 349.7 552.0 349.6 552.2 348.5 552.4 349.2 552.6 348.3 552.8 347.3 553.0 346.8 553.2 348.0 553.4 347.3 553.6 346.9 553.8 346.7 554.0 346.0 554.2 345.4 554.4 345.0 554.6 344.8 554.8 346.0 555.0 343.7 555.2 344.5 555.4 344.1 555.6 341.4 555.8 343.3 556.0 341.2 556.2 339.8 556.4 341.2 556.6 340.4 556.8 339.0 557.0 337.2 557.2 336.7 557.4 338.6 557.6 336.3 557.8 338.1 558.0 336.1 558.2 336.4 558.4 335.2 558.6 334.9 558.8 335.1 559.0 333.7 559.2 333.6 559.4 334.1 559.6 333.3 559.8 333.0 560.0 333.5 560.2 334.0 560.4 335.5 560.6 334.1 560.8 335.4 561.0 334.4 561.2 335.3 561.4 337.3 561.6 336.9 561.8 337.5 562.0 338.3 562.2 338.2 562.4 341.5 562.6 342.6 562.8 342.7 563.0 342.6 563.2 342.6 563.4 344.6 563.6 345.0 563.8 345.0 564.0 346.6 564.2 346.7 564.4 347.8 564.6 349.0 564.8 349.6 565.0 350.4 565.2 351.1 565.4 350.6 565.6 349.0 565.8 352.0 566.0 351.4 566.2 349.8 566.4 350.2 566.6 352.0 566.8 351.5 567.0 352.7 567.2 352.6 567.4 352.8 567.6 352.1 567.8 353.1 568.0 353.2 568.2 353.1 568.4 352.8 568.6 354.1 568.8 353.5 569.0 355.4 569.2 354.3 569.4 354.2 569.6 353.5 569.8 354.9 570.0 353.7 570.2 355.8 570.4 354.1 570.6 356.5 570.8 352.8 571.0 353.6 571.2 355.5 571.4 353.9 571.6 354.0 571.8 354.9 572.0 355.2 572.2 354.3 572.4 356.1 572.6 354.1 572.8 353.9 573.0 356.0 573.2 355.5 573.4 354.0 573.6 354.2 573.8 355.0 574.0 355.3 574.2 356.3 574.4 355.5 574.6 355.8 574.8 356.1 575.0 355.3 575.2 355.0 575.4 356.3 575.6 356.3 575.8 356.1 576.0 355.5 576.2 356.7 576.4 356.0 576.6 358.0 576.8 356.2 577.0 356.9 577.2 355.9 577.4 356.4 577.6 357.3 577.8 356.9 578.0 357.0 578.2 357.2 578.4 356.8 578.6 355.8 578.8 357.8 579.0 357.9 579.2 357.8 579.4 356.2 579.6 356.6 579.8 357.8 580.0 356.5 580.2 357.7 580.4 357.8 580.6 356.2 580.8 358.0 581.0 358.6 581.2 356.2 581.4 356.6 581.6 357.7 581.8 355.8 582.0 357.8 582.2 357.2 582.4 358.0 582.6 357.0 582.8 358.1 583.0 358.5 583.2 357.6 583.4 356.8 583.6 356.6 583.8 357.7 584.0 358.6 584.2 357.1 584.4 358.6 584.6 357.2 584.8 357.6 585.0 358.2 585.2 357.9 585.4 356.8 585.6 358.7 585.8 356.2 586.0 358.3 586.2 358.4 586.4 359.7 586.6 358.9 586.8 358.1 587.0 357.6 587.2 358.3 587.4 358.8 587.6 357.2 587.8 360.0 588.0 359.1 588.2 358.8 588.4 360.4 588.6 358.2 588.8 358.9 589.0 359.0 589.2 359.2 589.4 359.2 589.6 359.8 589.8 358.4 590.0 358.2 590.2 360.3 590.4 359.8 590.6 359.4 590.8 359.2 591.0 359.5 591.2 360.1 591.4 360.6 591.6 358.9 591.8 359.4 592.0 359.2 592.2 360.0 592.4 359.0 592.6 359.8 592.8 357.9 593.0 358.8 593.2 359.7 593.4 359.9 593.6 360.8 593.8 358.9 594.0 359.6 594.2 359.7 594.4 359.9 594.6 359.6 594.8 360.1 595.0 359.1 595.2 359.2 595.4 359.1 595.6 358.3 595.8 360.2 596.0 360.4 596.2 359.5 596.4 360.0 596.6 359.4 596.8 360.2 597.0 359.7 597.2 359.2 597.4 359.7 597.6 359.5 597.8 360.6 598.0 360.5 598.2 358.9 598.4 360.2 598.6 359.9 598.8 360.7 599.0 359.3 599.2 358.8 599.4 359.8 599.6 360.9 599.8 360.0 600.0 359.7 600.2 360.4 600.4 360.9 600.6 360.3 600.8 360.3 601.0 360.1 601.2 361.5 601.4 360.3 601.6 359.8 601.8 359.7 602.0 359.6 602.2 360.9 602.4 361.3 602.6 361.2 602.8 361.7 603.0 359.8 603.2 360.4 603.4 360.5 603.6 361.1 603.8 360.5 604.0 360.8 604.2 361.3 604.4 362.0 604.6 360.6 604.8 360.2 605.0 359.7 605.2 361.4 605.4 360.3 605.6 360.2 605.8 359.4 606.0 360.7 606.2 360.0 606.4 359.2 606.6 359.9 606.8 360.3 607.0 361.4 607.2 361.9 607.4 358.8 607.6 360.1 607.8 359.4 608.0 359.6 608.2 360.5 608.4 359.3 608.6 359.3 608.8 358.5 609.0 360.8 609.2 359.7 609.4 358.9 609.6 360.2 609.8 359.6 610.0 360.4 610.2 360.5 610.4 360.3 610.6 360.2 610.8 360.9 611.0 361.6 611.2 359.8 611.4 359.2 611.6 359.9 611.8 360.4 612.0 361.2 612.2 361.2 612.4 360.8 612.6 360.2 612.8 361.2 613.0 360.0 613.2 359.6 613.4 360.1 613.6 360.4 613.8 360.8 614.0 361.5 614.2 361.9 614.4 361.2 614.6 360.1 614.8 360.8 615.0 360.2 615.2 361.5 615.4 359.5 615.6 359.5 615.8 359.5 616.0 360.8 616.2 360.9 616.4 361.3 616.6 360.2 616.8 360.4 617.0 360.4 617.2 360.8 617.4 359.7 617.6 361.0 617.8 361.5 618.0 360.3 618.2 360.2 618.4 361.3 618.6 360.9 618.8 360.4 619.0 360.5 619.2 360.8 619.4 359.9 619.6 359.6 619.8 361.5 620.0 360.5 620.2 360.7 620.4 361.7 620.6 360.4 620.8 361.3 621.0 360.0 621.2 361.4 621.4 360.0 621.6 360.4 621.8 361.4 622.0 360.3 622.2 361.1 622.4 359.1 622.6 360.7 622.8 361.0 623.0 359.6 623.2 360.8 623.4 360.8 623.6 361.3 623.8 360.7 624.0 360.7 624.2 359.7 624.4 360.8 624.6 361.0 624.8 360.1 625.0 360.0 625.2 359.8 625.4 359.8 625.6 360.2 625.8 360.1 626.0 360.8 626.2 360.0 626.4 360.0 626.6 360.6 626.8 360.7 627.0 361.1 627.2 360.6 627.4 361.3 627.6 359.6 627.8 360.5 628.0 359.6 628.2 360.2 628.4 360.7 628.6 360.0 628.8 361.8 629.0 359.8 629.2 360.9 629.4 360.3 629.6 360.6 629.8 359.6 630.0 360.1 630.2 359.0 630.4 361.7 630.6 360.4 630.8 361.5 631.0 361.5 631.2 360.0 631.4 359.1 631.6 359.4 631.8 359.7 632.0 361.0 632.2 359.7 632.4 360.7 632.6 359.9 632.8 360.4 633.0 359.7 633.2 359.9 633.4 359.6 633.6 360.5 633.8 361.0 634.0 361.3 634.2 361.7 634.4 360.8 634.6 361.7 634.8 361.3 635.0 361.8 635.2 360.8 635.4 360.9 635.6 360.6 635.8 361.8 636.0 360.2 636.2 361.5 636.4 360.4 636.6 361.6 636.8 361.7 637.0 359.9 637.2 361.8 637.4 360.6 637.6 361.1 637.8 361.9 638.0 360.7 638.2 360.7 638.4 361.1 638.6 359.8 638.8 360.3 639.0 359.8 639.2 361.9 639.4 362.5 639.6 361.9 639.8 361.3 640.0 361.4 640.2 360.4 640.4 362.1 640.6 362.1 640.8 360.5 641.0 360.8 641.2 361.5 641.4 361.7 641.6 361.1 641.8 362.1 642.0 362.3 642.2 360.5 642.4 361.4 642.6 361.5 642.8 362.4 643.0 361.8 643.2 361.2 643.4 362.4 643.6 361.3 643.8 360.2 644.0 360.9 644.2 362.2 644.4 362.1 644.6 361.5 644.8 361.2 645.0 362.0 645.2 362.3 645.4 361.9 645.6 361.0 645.8 360.9 646.0 362.1 646.2 361.5 646.4 361.0 646.6 362.4 646.8 360.6 647.0 361.3 647.2 362.3 647.4 360.7 647.6 360.6 647.8 361.3 648.0 361.1 648.2 360.7 648.4 361.8 648.6 362.5 648.8 362.5 649.0 362.1 649.2 361.1 649.4 362.0 649.6 360.8 649.8 361.6 650.0 361.7 650.2 361.8 650.4 362.4 650.6 362.4 650.8 361.7 651.0 362.3 651.2 362.1 651.4 360.5 651.6 362.4 651.8 362.2 652.0 361.1 652.2 362.6 652.4 362.1 652.6 361.1 652.8 362.8 653.0 361.4 653.2 360.5 653.4 361.7 653.6 363.2 653.8 361.4 654.0 362.0 654.2 361.6 654.4 361.5 654.6 361.8 654.8 361.1 655.0 361.9 655.2 360.9 655.4 362.0 655.6 362.1 655.8 362.2 656.0 361.2 656.2 361.9 656.4 362.4 656.6 362.7 656.8 363.4 657.0 361.8 657.2 363.1 657.4 362.7 657.6 362.5 657.8 362.0 658.0 361.9 658.2 363.1 658.4 363.2 658.6 362.5 658.8 362.9 659.0 362.2 659.2 363.0 659.4 363.1 659.6 363.6 659.8 364.0 660.0 363.2 660.2 363.4 660.4 363.7 660.6 362.8 660.8 363.3 661.0 362.8 661.2 362.3 661.4 362.2 661.6 363.5 661.8 362.1 662.0 361.6 662.2 362.5 662.4 362.6 662.6 362.8 662.8 362.0 663.0 362.5 663.2 363.4 663.4 362.2 663.6 362.4 663.8 363.8 664.0 362.0 664.2 361.5 664.4 362.1 664.6 362.3 664.8 362.6 665.0 362.6 665.2 362.4 665.4 362.2 665.6 362.1 665.8 362.4 666.0 362.8 666.2 362.7 666.4 361.9 666.6 362.6 666.8 362.6 667.0 362.1 667.2 362.1 667.4 360.5 667.6 362.4 667.8 361.4 668.0 361.8 668.2 360.4 668.4 360.2 668.6 360.0 668.8 360.9 669.0 360.7 669.2 360.0 669.4 360.9 669.6 361.6 669.8 361.1 670.0 359.5 670.2 359.9 670.4 360.2 670.6 361.4 670.8 361.2 671.0 360.9 671.2 361.0"/>
<path stroke="#000000" d="M107.6 408.8 107.8 410.2 108.0 416.7 108.2 413.5 108.4 406.6 108.6 407.5 108.8 411.7 109.0 407.1 109.2 415.6 109.4 405.5 109.6 410.3 109.8 409.9 110.0 408.8 110.2 414.2 110.4 413.2 110.6 414.5 110.8 409.6 111.0 410.4 111.2 406.4 111.4 400.9 111.6 397.0 111.8 398.9 112.0 397.2 112.2 398.3 112.4 401.0 112.6 401.9 112.8 402.6 113.0 404.7 113.2 402.7 113.4 404.4 113.6 405.0 113.8 397.8 114.0 406.8 114.2 406.7 114.4 400.5 114.6 406.1 114.8 405.6 115.0 405.9 115.2 406.2 115.4 401.4 115.6 412.4 115.8 408.6 116.0 408.8 116.2 412.8 116.4 406.5 116.6 406.0 116.8 409.8 117.0 401.7 117.2 413.8 117.4 404.3 117.6 407.9 117.8 403.7 118.0 409.1 118.2 406.2 118.4 411.4 118.6 405.2 118.8 407.1 119.0 406.6 119.2 408.0 119.4 404.5 119.6 406.0 119.8 410.8 120.0 411.9 120.2 409.1 120.4 415.8 120.6 405.1 120.8 410.7 121.0 407.6 121.2 412.3 121.4 410.5 121.6 411.8 121.8 413.5 122.0 411.5 122.2 413.6 122.4 406.0 122.6 407.6 122.8 404.0 123.0 406.4 123.2 404.6 123.4 411.8 123.6 404.9 123.8 408.7 124.0 411.3 124.2 412.4 124.4 413.8 124.6 410.5 124.8 405.7 125.0 410.2 125.2 413.3 125.4 407.2 125.6 413.1 125.8 408.9 126.0 407.1 126.2 413.5 126.4 414.1 126.6 412.2 126.8 412.4 127.0 409.5 127.2 414.7 127.4 407.6 127.6 412.8 127.8 412.1 128.0 414.1 128.2 409.4 128.4 405.6 128.6 409.0 128.8 408.8 129.0 412.2 129.2 407.7 129.4 408.3 129.6 412.4 129.8 412.1 130.0 408.8 130.2 409.4 130.4 408.5 130.6 405.3 130.8 412.6 131.0 414.1 131.2 411.6 131.4 415.7 131.6 417.9 131.8 414.9 132.0 413.7 132.2 413.9 132.4 413.2 132.6 411.7 132.8 408.8 133.0 409.3 133.2 405.7 133.4 409.5 133.6 409.7 133.8 412.5 134.0 412.0 134.2 406.6 134.4 409.0 134.6 408.8 134.8 411.9 135.0 408.5 135.2 409.8 135.4 411.3 135.6 408.8 135.8 410.5 136.0 409.4 136.2 407.1 136.4 411.1 136.6 409.6 136.8 406.4 137.0 406.9 137.2 406.4 137.4 405.2 137.6 410.5 137.8 411.1 138.0 405.2 138.2 408.5 138.4 412.4 138.6 412.3 138.8 412.4 139.0 404.2 139.2 409.7 139.4 413.0 139.6 403.6 139.8 410.2 140.0 405.7 140.2 409.1 140.4 411.8 140.6 411.4 140.8 407.9 141.0 407.6 141.2 409.7 141.4 413.1 141.6 409.9 141.8 413.7 142.0 408.7 142.2 411.1 142.4 413.1 142.6 411.9 142.8 412.5 143.0 416.4 143.2 414.7 143.4 416.9 143.6 412.1 143.8 409.1 144.0 414.9 144.2 418.2 144.4 412.7 144.6 415.9 144.8 412.0 145.0 417.4 145.2 419.1 145.4 416.8 145.6 416.4 145.8 412.8 146.0 417.4 146.2 418.7 146.4 417.3 146.6 412.9 146.8 418.8 147.0 414.8 147.2 418.5 147.4 416.3 147.6 418.1 147.8 413.8 148.0 412.0 148.2 417.3 148.4 417.4 148.6 417.5 148.8 416.1 149.0 416.3 149.2 415.9 149.4 414.1 149.6 412.7 149.8 420.5 150.0 418.3 150.2 419.6 150.4 412.4 150.6 410.8 150.8 419.2 151.0 417.4 151.2 414.7 151.4 417.3 151.6 419.0 151.8 415.0 152.0 416.2 152.2 418.8 152.4 421.2 152.6 414.2 152.8 419.5 153.0 414.8 153.2 414.5 153.4 417.4 153.6 415.2 153.8 417.1 154.0 414.4 154.2 417.5 154.4 414.2 154.6 416.8 154.8 423.6 155.0 421.3 155.2 411.5 155.4 416.7 155.6 421.3 155.8 414.9 156.0 416.2 156.2 418.5 156.4 418.5 156.6 415.6 156.8 416.4 157.0 419.1 157.2 411.3 157.4 417.0 157.6 419.2 157.8 417.3 158.0 415.1 158.2 418.1 158.4 417.7 158.6 420.2 158.8 413.2 159.0 413.3 159.2 412.0 159.4 419.4 159.6 419.9 159.8 415.3 160.0 413.9 160.2 411.5 160.4 415.8 160.6 416.7 160.8 418.1 161.0 410.8 161.2 422.4 161.4 417.4 161.6 419.0 161.8 418.9 162.0 421.4 162.2 419.2 162.4 417.3 162.6 418.4 162.8 413.8 163.0 417.9 163.2 419.5 163.4 418.3 163.6 413.6 163.8 418.9 164.0 417.3 164.2 413.6 164.4 416.7 164.6 420.5 164.8 424.1 165.0 417.7 165.2 419.3 165.4 418.1 165.6 421.2 165.8 421.8 166.0 412.0 166.2 414.4 166.4 424.3 166.6 416.3 166.8 419.2 167.0 421.8 167.2 422.0 167.4 420.0 167.6 419.4 167.8 414.9 168.0 415.7 168.2 424.6 168.4 415.3 168.6 420.6 168.8 422.9 169.0 417.0 169.2 415.5 169.4 417.8 169.6 416.3 169.8 419.8 170.0 416.9 170.2 424.4 170.4 419.1 170.6 425.2 170.8 418.7 171.0 421.4 171.2 418.1 171.4 419.9 171.6 413.9 171.8 416.3 172.0 418.9 172.2 421.4 172.4 422.7 172.6 417.9 172.8 419.9 173.0 421.2 173.2 414.1 173.4 421.7 173.6 419.4 173.8 418.7 174.0 416.3 174.2 419.6 174.4 414.8 174.6 419.2 174.8 418.3 175.0 416.7 175.2 420.0 175.4 420.5 175.6 420.1 175.8 420.5 176.0 416.8 176.2 417.0 176.4 416.5 176.6 417.8 176.8 424.3 177.0 421.3 177.2 418.7 177.4 417.1 177.6 419.6 177.8 424.7 178.0 418.9 178.2 414.8 178.4 421.6 178.6 421.1 178.8 419.2 179.0 417.6 179.2 423.1 179.4 416.2 179.6 424.4 179.8 422.2 180.0 420.4 180.2 421.1 180.4 417.2 180.6 421.3 180.8 416.9 181.0 419.7 181.2 422.0 181.4 419.6 181.6 421.8 181.8 419.2 182.0 422.9 182.2 415.9 182.4 419.9 182.6 422.7 182.8 420.1 183.0 417.4 183.2 418.2 183.4 422.6 183.6 415.7 183.8 417.3 184.0 424.1 184.2 422.9 184.4 420.8 184.6 416.2 184.8 423.9 185.0 422.0 185.2 421.8 185.4 421.7 185.6 421.3 185.8 423.8 186.0 422.3 186.2 418.1 186.4 419.3 186.6 423.6 186.8 422.7 187.0 421.1 187.2 423.4 187.4 421.1 187.6 421.1 187.8 418.6 188.0 418.8 188.2 419.0 188.4 423.1 188.6 420.1 188.8 420.0 189.0 424.6 189.2 421.2 189.4 423.0 189.6 425.6 189.8 425.7 190.0 419.8 190.2 420.4 190.4 423.6 190.6 423.8 190.8 422.8 191.0 422.3 191.2 424.2 191.4 426.6 191.6 420.9 191.8 423.3 192.0 419.1 192.2 418.8 192.4 419.5 192.6 421.4 192.8 425.0 193.0 421.6 193.2 421.5 193.4 420.9 193.6 423.3 193.8 418.9 194.0 420.5 194.2 424.4 194.4 421.6 194.6 421.5 194.8 421.1 195.0 425.8 195.2 423.1 195.4 422.4 195.6 422.5 195.8 422.7 196.0 422.3 196.2 423.7 196.4 422.0 196.6 423.2 196.8 424.2 197.0 418.6 197.2 420.6 197.4 419.3 197.6 423.1 197.8 423.5 198.0 424.4 198.2 423.4 198.4 419.3 198.6 423.9 198.8 424.1 199.0 422.2 199.2 424.4 199.4 419.8 199.6 421.0 199.8 423.5 200.0 420.3 200.2 421.1 200.4 425.1 200.6 423.2 200.8 422.9 201.0 420.4 201.2 421.2 201.4 424.2 201.6 422.4 201.8 421.1 202.0 420.1 202.2 422.3 202.4 424.5 202.6 421.1 202.8 421.4 203.0 427.9 203.2 425.7 203.4 421.4 203.6 425.5 203.8 420.9 204.0 424.0 204.2 422.8 204.4 426.3 204.6 425.9 204.8 425.9 205.0 422.6 205.2 425.1 205.4 425.7 205.6 420.9 205.8 425.5 206.0 422.4 206.2 419.7 206.4 425.6 206.6 421.2 206.8 422.1 207.0 420.5 207.2 424.8 207.4 427.3 207.6 427.9 207.8 424.6 208.0 423.6 208.2 424.4 208.4 424.1 208.6 426.6 208.8 422.4 209.0 421.7 209.2 421.6 209.4 424.1 209.6 427.7 209.8 428.5 210.0 426.6 210.2 421.5 210.4 423.1 210.6 427.9 210.8 423.5 211.0 422.3 211.2 424.4 211.4 426.8 211.6 422.6 211.8 423.8 212.0 421.3 212.2 422.1 212.4 425.9 212.6 421.4 212.8 426.2 213.0 423.7 213.2 422.7 213.4 426.4 213.6 423.6 213.8 421.8 214.0 428.9 214.2 423.5 214.4 422.2 214.6 424.4 214.8 419.9 215.0 426.2 215.2 420.8 215.4 420.2 215.6 426.8 215.8 422.5 216.0 425.9 216.2 426.1 216.4 426.0 216.6 420.9 216.8 425.5 217.0 423.1 217.2 422.0 217.4 425.1 217.6 421.2 217.8 424.8 218.0 423.5 218.2 423.9 218.4 423.3 218.6 425.4 218.8 423.5 219.0 427.9 219.2 428.0 219.4 423.8 219.6 423.9 219.8 422.5 220.0 423.5 220.2 422.3 220.4 424.0 220.6 424.6 220.8 423.8 221.0 422.2 221.2 423.0 221.4 425.7 221.6 427.5 221.8 426.2 222.0 425.7 222.2 425.6 222.4 420.2 222.6 425.9 222.8 424.0 223.0 425.1 223.2 422.1 223.4 424.9 223.6 420.6 223.8 426.8 224.0 425.7 224.2 423.4 224.4 426.2 224.6 423.0 224.8 424.8 225.0 422.2 225.2 421.7 225.4 424.7 225.6 421.1 225.8 423.7 226.0 421.8 226.2 421.2 226.4 422.9 226.6 425.9 226.8 424.7 227.0 423.2 227.2 423.1 227.4 420.7 227.6 423.8 227.8 425.0 228.0 425.6 228.2 422.8 228.4 425.5 228.6 423.7 228.8 425.8 229.0 422.8 229.2 422.8 229.4 422.0 229.6 424.3 229.8 420.0 230.0 424.2 230.2 420.9 230.4 425.8 230.6 420.6 230.8 419.7 231.0 422.4 231.2 423.3 231.4 424.9 231.6 421.3 231.8 423.1 232.0 424.1 232.2 421.9 232.4 422.6 232.6 424.3 232.8 420.7 233.0 424.8 233.2 426.9 233.4 419.4 233.6 420.3 233.8 422.3 234.0 421.6 234.2 424.7 234.4 422.4 234.6 420.2 234.8 422.1 235.0 422.7 235.2 425.4 235.4 422.8 235.6 420.7 235.8 426.0 236.0 419.4 236.2 420.5 236.4 422.1 236.6 425.5 236.8 427.6 237.0 421.3 237.2 422.1 237.4 425.0 237.6 420.2 237.8 425.2 238.0 421.7 238.2 421.3 238.4 422.3 238.6 427.3 238.8 427.9 239.0 422.0 239.2 426.3 239.4 427.3 239.6 420.5 239.8 420.3 240.0 422.9 240.2 426.1 240.4 421.8 240.6 422.5 240.8 421.8 241.0 426.4 241.2 421.4 241.4 425.9 241.6 424.2 241.8 425.3 242.0 424.6 242.2 426.4 242.4 420.9 242.6 422.6 242.8 424.7 243.0 423.0 243.2 424.0 243.4 422.9 243.6 420.8 243.8 423.5 244.0 424.9 244.2 424.6 244.4 423.6 244.6 426.8 244.8 425.4 245.0 421.7 245.2 420.4 245.4 425.4 245.6 426.7 245.8 422.9 246.0 425.5 246.2 422.1 246.4 422.7 246.6 420.7 246.8 420.0 247.0 421.8 247.2 418.6 247.4 417.2 247.6 419.5 247.8 419.7 248.0 420.4 248.2 420.3 248.4 422.1 248.6 420.1 248.8 420.0 249.0 420.5 249.2 418.4 249.4 417.8 249.6 416.2 249.8 416.6 250.0 416.9 250.2 415.3 250.4 418.4 250.6 419.7 250.8 416.3 251.0 414.1 251.2 413.5 251.4 417.0 251.6 418.5 251.8 412.8 252.0 415.6 252.2 414.3 252.4 416.8 252.6 415.2 252.8 420.5 253.0 414.2 253.2 417.0 253.4 419.1 253.6 421.2 253.8 418.0 254.0 419.8 254.2 417.8 254.4 416.3 254.6 417.3 254.8 421.8 255.0 419.2 255.2 420.6 255.4 417.5 255.6 420.9 255.8 419.7 256.0 422.2 256.2 417.5 256.4 419.7 256.6 421.3 256.8 420.3 257.0 419.7 257.2 418.4 257.4 418.0 257.6 420.7 257.8 423.8 258.0 420.4 258.2 419.7 258.4 421.0 258.6 422.0 258.8 422.0 259.0 418.0 259.2 418.5 259.4 423.2 259.6 420.0 259.8 421.5 260.0 420.8 260.2 422.3 260.4 417.9 260.6 424.5 260.8 422.6 261.0 420.1 261.2 423.0 261.4 419.7 261.6 424.0 261.8 422.5 262.0 423.4 262.2 424.0 262.4 420.2 262.6 423.0 262.8 420.4 263.0 421.7 263.2 422.1 263.4 420.7 263.6 424.9 263.8 420.7 264.0 424.2 264.2 421.7 264.4 425.1 264.6 421.4 264.8 421.6 265.0 424.0 265.2 423.2 265.4 424.6 265.6 420.4 265.8 422.9 266.0 422.6 266.2 423.9 266.4 422.9 266.6 420.5 266.8 422.4 267.0 421.4 267.2 424.5 267.4 421.5 267.6 419.5 267.8 423.3 268.0 424.7 268.2 421.4 268.4 424.6 268.6 420.0 268.8 419.2 269.0 423.3 269.2 421.3 269.4 424.4 269.6 425.6 269.8 423.7 270.0 423.9 270.2 423.1 270.4 421.4 270.6 421.6 270.8 426.4 271.0 424.6 271.2 421.5 271.4 422.4 271.6 424.5 271.8 419.9 272.0 424.3 272.2 420.1 272.4 422.0 272.6 423.4 272.8 423.0 273.0 422.1 273.2 424.2 273.4 420.3 273.6 421.4 273.8 423.4 274.0 422.9 274.2 424.0 274.4 423.2 274.6 424.1 274.8 423.6 275.0 426.4 275.2 418.8 275.4 421.2 275.6 421.0 275.8 422.8 276.0 420.1 276.2 426.1 276.4 420.6 276.6 421.5 276.8 423.9 277.0 421.8 277.2 421.9 277.4 420.7 277.6 422.2 277.8 422.3 278.0 423.4 278.2 422.8 278.4 421.5 278.6 423.4 278.8 424.5 279.0 423.0 279.2 421.2 279.4 425.0 279.6 420.9 279.8 421.5 280.0 419.5 280.2 425.3 280.4 421.7 280.6 421.3 280.8 422.5 281.0 422.6 281.2 420.1 281.4 423.3 281.6 424.3 281.8 419.5 282.0 425.5 282.2 424.3 282.4 419.4 282.6 423.8 282.8 424.8 283.0 423.6 283.2 419.1 283.4 420.5 283.6 423.1 283.8 422.2 284.0 420.6 284.2 423.2 284.4 422.4 284.6 421.9 284.8 420.1 285.0 419.8 285.2 423.0 285.4 419.4 285.6 425.1 285.8 421.4 286.0 421.0 286.2 421.1 286.4 420.8 286.6 422.2 286.8 424.2 287.0 420.6 287.2 422.9 287.4 422.8 287.6 425.7 287.8 421.0 288.0 421.4 288.2 421.9 288.4 420.2 288.6 421.7 288.8 426.0 289.0 417.6 289.2 419.1 289.4 420.6 289.6 423.3 289.8 423.0 290.0 420.4 290.2 420.0 290.4 423.1 290.6 416.9 290.8 421.6 291.0 422.3 291.2 416.2 291.4 418.3 291.6 420.3 291.8 419.0 292.0 414.3 292.2 415.0 292.4 417.1 292.6 414.3 292.8 416.8 293.0 417.2 293.2 415.3 293.4 418.7 293.6 415.6 293.8 415.3 294.0 412.1 294.2 416.3 294.4 414.6 294.6 416.1 294.8 414.8 295.0 410.0 295.2 413.9 295.4 410.9 295.6 412.5 295.8 408.6 296.0 411.4 296.2 410.2 296.4 409.0 296.6 408.8 296.8 410.4 297.0 406.5 297.2 409.7 297.4 405.3 297.6 408.4 297.8 407.2 298.0 407.3 298.2 407.7 298.4 407.1 298.6 406.2 298.8 406.9 299.0 404.6 299.2 402.4 299.4 402.4 299.6 403.9 299.8 399.6 300.0 402.3 300.2 399.0 300.4 396.7 300.6 396.1 300.8 394.7 301.0 391.7 301.2 392.9 301.4 389.9 301.6 389.6 301.8 390.2 302.0 388.6 302.2 384.7 302.4 383.9 302.6 386.3 302.8 386.2 303.0 384.4 303.2 388.9 303.4 384.5 303.6 384.8 303.8 386.9 304.0 385.8 304.2 390.1 304.4 389.7 304.6 391.8 304.8 392.3 305.0 391.8 305.2 394.2 305.4 396.8 305.6 395.3 305.8 397.4 306.0 399.2 306.2 397.4 306.4 398.6 306.6 404.1 306.8 402.4 307.0 404.2 307.2 404.8 307.4 407.3 307.6 406.4 307.8 409.5 308.0 409.8 308.2 410.4 308.4 410.2 308.6 409.9 308.8 411.5 309.0 411.1 309.2 413.5 309.4 411.5 309.6 410.6 309.8 413.2 310.0 413.7 310.2 416.5 310.4 412.7 310.6 417.3 310.8 412.3 311.0 413.1 311.2 414.8 311.4 418.0 311.6 417.4 311.8 416.6 312.0 417.5 312.2 419.4 312.4 415.5 312.6 419.5 312.8 416.8 313.0 419.1 313.2 420.0 313.4 417.8 313.6 415.8 313.8 417.3 314.0 417.4 314.2 417.0 314.4 418.6 314.6 419.2 314.8 417.8 315.0 422.6 315.2 422.7 315.4 421.7 315.6 421.5 315.8 420.9 316.0 422.1 316.2 418.3 316.4 418.9 316.6 418.5 316.8 420.4 317.0 422.1 317.2 419.1 317.4 420.5 317.6 421.2 317.8 423.2 318.0 422.4 318.2 419.4 318.4 419.0 318.6 420.7 318.8 423.8 319.0 423.1 319.2 423.1 319.4 419.8 319.6 420.6 319.8 419.5 320.0 420.8 320.2 422.9 320.4 420.5 320.6 422.6 320.8 422.4 321.0 424.0 321.2 423.9 321.4 426.2 321.6 421.5 321.8 423.2 322.0 423.9 322.2 420.2 322.4 426.0 322.6 424.3 322.8 426.3 323.0 423.2 323.2 423.2 323.4 423.6 323.6 425.4 323.8 425.0 324.0 427.0 324.2 422.9 324.4 426.2 324.6 424.1 324.8 426.7 325.0 426.9 325.2 425.1 325.4 425.6 325.6 427.7 325.8 425.3 326.0 426.7 326.2 427.5 326.4 428.5 326.6 425.9 326.8 424.8 327.0 423.5 327.2 425.7 327.4 424.5 327.6 428.6 327.8 427.6 328.0 428.8 328.2 428.4 328.4 427.4 328.6 426.3 328.8 427.1 329.0 427.2 329.2 428.5 329.4 427.6 329.6 426.1 329.8 427.0 330.0 428.5 330.2 426.6 330.4 427.1 330.6 430.4 330.8 429.1 331.0 428.0 331.2 429.1 331.4 428.1 331.6 429.1 331.8 429.3 332.0 429.4 332.2 429.8 332.4 429.0 332.6 425.8 332.8 426.7 333.0 428.3 333.2 429.7 333.4 427.7 333.6 428.3 333.8 428.8 334.0 427.5 334.2 428.6 334.4 430.0 334.6 427.3 334.8 427.8 335.0 428.4 335.2 429.3 335.4 428.7 335.6 429.5 335.8 429.2 336.0 427.5 336.2 429.4 336.4 430.3 336.6 426.0 336.8 426.8 337.0 428.1 337.2 427.2 337.4 426.5 337.6 431.0 337.8 426.7 338.0 427.7 338.2 426.1 338.4 426.1 338.6 427.9 338.8 426.0 339.0 429.5 339.2 429.0 339.4 426.0 339.6 429.8 339.8 426.9 340.0 429.2 340.2 426.3 340.4 426.6 340.6 428.9 340.8 430.0 341.0 424.5 341.2 427.1 341.4 428.1 341.6 429.9 341.8 427.3 342.0 429.4 342.2 429.3 342.4 428.6 342.6 429.6 342.8 427.8 343.0 429.2 343.2 425.8 343.4 427.8 343.6 429.9 343.8 427.2 344.0 426.8 344.2 429.8 344.4 430.9 344.6 428.8 344.8 429.8 345.0 427.8 345.2 432.5 345.4 427.1 345.6 429.5 345.8 428.0 346.0 431.3 346.2 426.9 346.4 427.4 346.6 430.4 346.8 430.2 347.0 429.1 347.2 429.4 347.4 432.9 347.6 428.9 347.8 428.4 348.0 427.4 348.2 429.5 348.4 431.6 348.6 428.8 348.8 431.2 349.0 430.6 349.2 428.8 349.4 429.6 349.6 429.9 349.8 427.7 350.0 431.7 350.2 428.1 350.4 428.8 350.6 430.5 350.8 429.5 351.0 431.4 351.2 430.5 351.4 428.5 351.6 428.6 351.8 432.2 352.0 428.4 352.2 427.1 352.4 430.6 352.6 426.4 352.8 427.9 353.0 430.7 353.2 431.0 353.4 426.3 353.6 427.1 353.8 428.3 354.0 430.3 354.2 429.8 354.4 427.5 354.6 428.9 354.8 427.2 355.0 427.0 355.2 427.7 355.4 427.5 355.6 427.7 355.8 428.7 356.0 427.1 356.2 427.7 356.4 428.2 356.6 426.6 356.8 424.8 357.0 424.4 357.2 427.3 357.4 428.2 357.6 428.1 357.8 424.1 358.0 425.4 358.2 427.0 358.4 426.0 358.6 426.2 358.8 427.4 359.0 428.5 359.2 424.9 359.4 427.2 359.6 426.9 359.8 426.4 360.0 427.5 360.2 427.2 360.4 423.5 360.6 425.0 360.8 423.7 361.0 425.6 361.2 426.2 361.4 427.0 361.6 423.4 361.8 423.8 362.0 423.0 362.2 423.2 362.4 426.7 362.6 423.2 362.8 423.9 363.0 426.0 363.2 425.1 363.4 422.4 363.6 423.1 363.8 426.5 364.0 424.7 364.2 421.6 364.4 423.5 364.6 422.3 364.8 423.5 365.0 425.4 365.2 424.3 365.4 421.3 365.6 424.2 365.8 422.1 366.0 424.8 366.2 421.7 366.4 422.4 366.6 422.8 366.8 423.1 367.0 422.6 367.2 424.2 367.4 424.0 367.6 421.5 367.8 424.3 368.0 422.8 368.2 421.2 368.4 420.7 368.6 420.2 368.8 421.1 369.0 422.4 369.2 422.7 369.4 421.9 369.6 422.5 369.8 421.6 370.0 421.7 370.2 420.2 370.4 421.4 370.6 420.1 370.8 420.9 371.0 420.3 371.2 420.8 371.4 418.5 371.6 421.7 371.8 418.8 372.0 419.3 372.2 418.3 372.4 420.5 372.6 420.8 372.8 421.2 373.0 418.5 373.2 418.3 373.4 420.8 373.6 420.2 373.8 415.6 374.0 417.0 374.2 416.4 374.4 418.7 374.6 419.8 374.8 419.2 375.0 419.3 375.2 417.8 375.4 417.6 375.6 418.9 375.8 418.4 376.0 420.7 376.2 418.5 376.4 419.0 376.6 421.3 376.8 418.2 377.0 418.2 377.2 417.4 377.4 420.8 377.6 419.3 377.8 419.5 378.0 422.9 378.2 422.1 378.4 418.9 378.6 419.0 378.8 421.9 379.0 422.7 379.2 421.4 379.4 420.7 379.6 420.1 379.8 420.1 380.0 419.3 380.2 419.0 380.4 418.3 380.6 420.2 380.8 422.7 381.0 422.0 381.2 421.7 381.4 419.3 381.6 421.6 381.8 420.0 382.0 422.2 382.2 424.3 382.4 421.4 382.6 424.6 382.8 421.9 383.0 420.3 383.2 421.1 383.4 422.5 383.6 421.1 383.8 421.8 384.0 422.2 384.2 422.8 384.4 422.3 384.6 422.0 384.8 421.7 385.0 424.6 385.2 424.2 385.4 425.0 385.6 424.3 385.8 424.7 386.0 424.3 386.2 423.5 386.4 423.3 386.6 424.8 386.8 422.8 387.0 422.9 387.2 423.7 387.4 423.1 387.6 426.3 387.8 425.3 388.0 424.6 388.2 426.6 388.4 423.1 388.6 422.7 388.8 424.0 389.0 425.0 389.2 423.0 389.4 424.6 389.6 423.7 389.8 424.3 390.0 424.6 390.2 424.5 390.4 424.4 390.6 424.9 390.8 425.4 391.0 426.7 391.2 425.3 391.4 426.2 391.6 426.0 391.8 424.7 392.0 426.1 392.2 424.6 392.4 423.7 392.6 427.7 392.8 425.8 393.0 426.9 393.2 427.0 393.4 428.0 393.6 426.8 393.8 426.9 394.0 424.3 394.2 428.9 394.4 428.2 394.6 426.6 394.8 427.1 395.0 426.3 395.2 427.8 395.4 426.5 395.6 427.1 395.8 428.6 396.0 426.6 396.2 426.3 396.4 426.7 396.6 425.6 396.8 428.6 397.0 427.4 397.2 429.0 397.4 429.3 397.6 427.9 397.8 426.3 398.0 429.5 398.2 428.8 398.4 428.8 398.6 427.0 398.8 429.5 399.0 427.5 399.2 427.2 399.4 428.1 399.6 429.3 399.8 429.1 400.0 429.9 400.2 427.3 400.4 428.9 400.6 428.1 400.8 428.6 401.0 430.6 401.2 427.4 401.4 430.6 401.6 429.9 401.8 429.1 402.0 429.1 402.2 431.4 402.4 429.5 402.6 430.3 402.8 429.7 403.0 428.1 403.2 430.6 403.4 429.5 403.6 430.0 403.8 428.2 404.0 428.2 404.2 429.2 404.4 428.1 404.6 428.8 404.8 429.3 405.0 429.3 405.2 431.4 405.4 427.2 405.6 429.9 405.8 431.7 406.0 427.9 406.2 429.5 406.4 431.4 406.6 430.1 406.8 429.5 407.0 428.6 407.2 427.8 407.4 429.6 407.6 430.6 407.8 430.2 408.0 430.3 408.2 429.8 408.4 428.9 408.6 428.7 408.8 427.8 409.0 429.1 409.2 428.1 409.4 428.6 409.6 428.9 409.8 428.5 410.0 430.9 410.2 429.8 410.4 429.4 410.6 431.5 410.8 427.3 411.0 429.2 411.2 427.7 411.4 428.3 411.6 430.0 411.8 427.2 412.0 429.7 412.2 430.0 412.4 428.5 412.6 429.4 412.8 427.3 413.0 430.3 413.2 430.4 413.4 429.2 413.6 429.8 413.8 429.4 414.0 429.4 414.2 427.7 414.4 430.1 414.6 428.4 414.8 430.4 415.0 428.7 415.2 427.8 415.4 428.0 415.6 430.3 415.8 429.4 416.0 427.7 416.2 429.6 416.4 430.2 416.6 427.9 416.8 427.4 417.0 430.0 417.2 428.6 417.4 430.3 417.6 429.0 417.8 429.0 418.0 427.8 418.2 427.1 418.4 429.3 418.6 429.9 418.8 429.6 419.0 427.6 419.2 428.0 419.4 429.7 419.6 427.9 419.8 428.2 420.0 428.1 420.2 431.6 420.4 429.3 420.6 428.8 420.8 428.4 421.0 427.5 421.2 429.8 421.4 428.8 421.6 429.3 421.8 427.7 422.0 428.5 422.2 430.2 422.4 429.4 422.6 429.0 422.8 427.9 423.0 430.4 423.2 429.1 423.4 427.2 423.6 427.7 423.8 429.1 424.0 430.6 424.2 429.1 424.4 429.6 424.6 428.8 424.8 429.9 425.0 427.0 425.2 428.9 425.4 427.5 425.6 427.1 425.8 429.4 426.0 427.7 426.2 428.1 426.4 429.7 426.6 429.8 426.8 428.6 427.0 429.2 427.2 431.1 427.4 428.5 427.6 431.0 427.8 430.4 428.0 429.0 428.2 429.4 428.4 427.5 428.6 430.7 428.8 430.2 429.0 431.1 429.2 429.1 429.4 429.6 429.6 429.3 429.8 431.6 430.0 431.5 430.2 430.3 430.4 428.6 430.6 428.6 430.8 430.2 431.0 430.8 431.2 431.8 431.4 430.7 431.6 431.1 431.8 430.4 432.0 431.1 432.2 430.1 432.4 429.5 432.6 428.8 432.8 430.0 433.0 427.9 433.2 427.2 433.4 431.0 433.6 429.8 433.8 429.4 434.0 431.3 434.2 428.8 434.4 431.2 434.6 430.9 434.8 429.1 435.0 430.3 435.2 430.6 435.4 427.9 435.6 431.0 435.8 430.9 436.0 427.6 436.2 428.0 436.4 428.3 436.6 431.7 436.8 428.6 437.0 427.5 437.2 427.2 437.4 432.0 437.6 428.2 437.8 430.2 438.0 428.0 438.2 429.6 438.4 429.1 438.6 428.3 438.8 428.0 439.0 429.9 439.2 428.0 439.4 429.0 439.6 430.5 439.8 430.1 440.0 427.4 440.2 428.2 440.4 429.8 440.6 428.9 440.8 427.2 441.0 427.6 441.2 428.8 441.4 429.4 441.6 430.3 441.8 428.7 442.0 428.8 442.2 428.5 442.4 430.4 442.6 427.9 442.8 428.4 443.0 427.8 443.2 430.2 443.4 427.4 443.6 429.1 443.8 428.8 444.0 428.8 444.2 429.9 444.4 430.8 444.6 428.6 444.8 427.8 445.0 430.6 445.2 428.0 445.4 428.5 445.6 427.4 445.8 430.8 446.0 429.4 446.2 429.6 446.4 428.9 446.6 431.2 446.8 427.7 447.0 429.7 447.2 429.4 447.4 429.2 447.6 428.8 447.8 430.2 448.0 427.2 448.2 428.6 448.4 429.1 448.6 429.5 448.8 428.8 449.0 428.5 449.2 428.9 449.4 431.3 449.6 430.4 449.8 427.9 450.0 429.8 450.2 428.0 450.4 428.7 450.6 427.7 450.8 427.2 451.0 428.6 451.2 428.7 451.4 427.0 451.6 426.9 451.8 429.4 452.0 430.5 452.2 426.3 452.4 429.9 452.6 428.2 452.8 427.1 453.0 429.0 453.2 429.1 453.4 427.7 453.6 428.4 453.8 428.4 454.0 428.5 454.2 427.4 454.4 427.2 454.6 429.6 454.8 428.8 455.0 428.6 455.2 429.0 455.4 428.9 455.6 427.9 455.8 428.0 456.0 426.3 456.2 426.5 456.4 427.3 456.6 429.2 456.8 430.4 457.0 428.1 457.2 429.2 457.4 428.7 457.6 427.4 457.8 427.8 458.0 427.9 458.2 429.3 458.4 427.2 458.6 428.2 458.8 429.0 459.0 427.7 459.2 428.9 459.4 428.4 459.6 427.0 459.8 428.0 460.0 428.2 460.2 429.4 460.4 429.2 460.6 426.4 460.8 429.3 461.0 428.1 461.2 428.3 461.4 426.2 461.6 429.3 461.8 428.7 462.0 428.8 462.2 430.1 462.4 427.4 462.6 428.2 462.8 426.8 463.0 427.1 463.2 429.2 463.4 427.5 463.6 429.4 463.8 429.8 464.0 428.5 464.2 429.3 464.4 427.8 464.6 426.8 464.8 427.4 465.0 427.0 465.2 427.1 465.4 426.7 465.6 426.3 465.8 426.8 466.0 427.9 466.2 428.4 466.4 430.2 466.6 428.2 466.8 428.9 467.0 428.7 467.2 428.5 467.4 429.9 467.6 427.6 467.8 426.9 468.0 427.1 468.2 429.8 468.4 427.1 468.6 429.7 468.8 427.6 469.0 428.3 469.2 425.9 469.4 428.1 469.6 426.8 469.8 429.6 470.0 425.6 470.2 428.6 470.4 426.8 470.6 426.4 470.8 427.4 471.0 426.2 471.2 426.5 471.4 426.6 471.6 426.5 471.8 427.9 472.0 428.3 472.2 427.1 472.4 427.5 472.6 426.9 472.8 426.9 473.0 427.3 473.2 427.6 473.4 427.3 473.6 428.8 473.8 427.6 474.0 427.2 474.2 427.4 474.4 426.9 474.6 428.9 474.8 427.9 475.0 426.1 475.2 427.1 475.4 427.2 475.6 427.2 475.8 427.0 476.0 425.9 476.2 428.9 476.4 428.1 476.6 428.3 476.8 426.3 477.0 428.5 477.2 427.4 477.4 427.7 477.6 426.3 477.8 428.9 478.0 427.5 478.2 427.9 478.4 426.4 478.6 426.6 478.8 428.9 479.0 428.2 479.2 428.1 479.4 427.1 479.6 427.3 479.8 428.6 480.0 428.7 480.2 428.3 480.4 427.2 480.6 427.3 480.8 429.0 481.0 427.2 481.2 427.8 481.4 426.4 481.6 427.2 481.8 428.6 482.0 428.7 482.2 429.2 482.4 427.5 482.6 428.0 482.8 429.3 483.0 428.9 483.2 428.1 483.4 427.4 483.6 428.0 483.8 427.4 484.0 427.3 484.2 426.6 484.4 426.9 484.6 429.0 484.8 427.3 485.0 427.7 485.2 428.8 485.4 426.1 485.6 428.0 485.8 429.2 486.0 427.1 486.2 429.1 486.4 428.1 486.6 428.6 486.8 428.2 487.0 427.4 487.2 426.8 487.4 427.9 487.6 428.6 487.8 429.7 488.0 429.7 488.2 428.0 488.4 429.6 488.6 428.9 488.8 429.2 489.0 429.5 489.2 428.9 489.4 429.9 489.6 428.4 489.8 430.2 490.0 430.1 490.2 428.3 490.4 430.0 490.6 428.8 490.8 430.7 491.0 430.9 491.2 429.7 491.4 428.6 491.6 429.4 491.8 429.9 492.0 430.3 492.2 429.9 492.4 427.0 492.6 429.7 492.8 427.6 493.0 427.9 493.2 427.5 493.4 429.3 493.6 430.6 493.8 426.6 494.0 428.1 494.2 428.0 494.4 427.9 494.6 428.6 494.8 427.3 495.0 428.7 495.2 428.9 495.4 428.9 495.6 427.7 495.8 428.9 496.0 427.7 496.2 428.5 496.4 429.0 496.6 428.9 496.8 428.4 497.0 427.8 497.2 430.1 497.4 429.9 497.6 428.6 497.8 429.7 498.0 428.9 498.2 430.6 498.4 427.1 498.6 427.0 498.8 426.7 499.0 428.8 499.2 425.6 499.4 426.3 499.6 425.4 499.8 425.4 500.0 426.8 500.2 425.5 500.4 424.4 500.6 423.6 500.8 423.6 501.0 423.2 501.2 422.2 501.4 424.2 501.6 422.0 501.8 421.8 502.0 422.7 502.2 423.1 502.4 421.4 502.6 420.4 502.8 422.4 503.0 421.6 503.2 422.1 503.4 422.2 503.6 420.5 503.8 418.7 504.0 419.0 504.2 421.6 504.4 418.8 504.6 420.8 504.8 420.9 505.0 418.1 505.2 418.0 505.4 419.2 505.6 418.2 505.8 417.4 506.0 419.0 506.2 419.3 506.4 418.8 506.6 419.8 506.8 418.9 507.0 421.2 507.2 420.6 507.4 421.4 507.6 421.1 507.8 421.0 508.0 421.1 508.2 422.1 508.4 422.0 508.6 424.2 508.8 422.8 509.0 424.3 509.2 424.9 509.4 426.0 509.6 424.9 509.8 424.9 510.0 426.5 510.2 425.3 510.4 427.6 510.6 425.6 510.8 425.5 511.0 426.4 511.2 426.2 511.4 425.9 511.6 425.8 511.8 426.5 512.0 426.0 512.2 428.5 512.4 428.4 512.6 428.3 512.8 428.7 513.0 428.4 513.2 427.6 513.4 428.3 513.6 428.1 513.8 429.1 514.0 427.9 514.2 429.0 514.4 429.6 514.6 429.3 514.8 429.6 515.0 429.6 515.2 428.6 515.4 429.9 515.6 428.1 515.8 429.4 516.0 431.0 516.2 428.9 516.4 430.9 516.6 430.3 516.8 431.8 517.0 428.9 517.2 431.5 517.4 431.2 517.6 430.4 517.8 429.2 518.0 430.6 518.2 430.4 518.4 429.6 518.6 430.6 518.8 429.5 519.0 430.7 519.2 432.4 519.4 432.5 519.6 430.8 519.8 432.7 520.0 432.4 520.2 433.4 520.4 431.7 520.6 431.1 520.8 431.3 521.0 431.0 521.2 430.4 521.4 430.7 521.6 432.5 521.8 431.4 522.0 429.9 522.2 431.7 522.4 430.9 522.6 432.3 522.8 432.4 523.0 430.4 523.2 432.0 523.4 433.2 523.6 432.2 523.8 430.9 524.0 431.7 524.2 431.5 524.4 431.9 524.6 431.0 524.8 430.8 525.0 430.9 525.2 431.2 525.4 431.7 525.6 431.5 525.8 431.4 526.0 431.9 526.2 432.1 526.4 430.5 526.6 432.3 526.8 430.8 527.0 431.9 527.2 431.9 527.4 431.7 527.6 430.9 527.8 432.4 528.0 431.8 528.2 431.3 528.4 430.8 528.6 431.5 528.8 431.9 529.0 431.2 529.2 431.5 529.4 432.8 529.6 430.9 529.8 431.4 530.0 431.0 530.2 433.2 530.4 432.6 530.6 432.8 530.8 431.7 531.0 431.4 531.2 430.9 531.4 432.8 531.6 432.6 531.8 433.7 532.0 431.6 532.2 431.5 532.4 431.6 532.6 432.5 532.8 432.6 533.0 431.1 533.2 431.0 533.4 432.5 533.6 432.3 533.8 431.2 534.0 431.8 534.2 431.5 534.4 432.6 534.6 433.1 534.8 432.2 535.0 431.0 535.2 431.7 535.4 432.0 535.6 432.2 535.8 430.7 536.0 431.6 536.2 432.9 536.4 432.3 536.6 432.6 536.8 431.5 537.0 431.8 537.2 432.0 537.4 432.1 537.6 430.9 537.8 433.0 538.0 431.4 538.2 433.0 538.4 431.7 538.6 432.3 538.8 433.0 539.0 432.0 539.2 432.3 539.4 431.8 539.6 430.7 539.8 431.2 540.0 432.6 540.2 432.2 540.4 431.5 540.6 431.3 540.8 431.6 541.0 430.5 541.2 432.1 541.4 430.1 541.6 432.6 541.8 430.4 542.0 429.9 542.2 430.6 542.4 429.7 542.6 429.5 542.8 432.6 543.0 432.0 543.2 431.6 543.4 430.9 543.6 429.4 543.8 429.9 544.0 429.0 544.2 429.9 544.4 430.1 544.6 429.9 544.8 431.0 545.0 428.8 545.2 429.7 545.4 430.5 545.6 429.1 545.8 429.4 546.0 430.2 546.2 429.4 546.4 430.1 546.6 429.3 546.8 431.2 547.0 429.0 547.2 429.6 547.4 430.8 547.6 428.7 547.8 429.4 548.0 429.4 548.2 427.9 548.4 428.2 548.6 427.7 548.8 427.5 549.0 427.9 549.2 428.2 549.4 428.9 549.6 429.1 549.8 427.7 550.0 428.4 550.2 428.3 550.4 427.2 550.6 428.6 550.8 427.2 551.0 426.5 551.2 426.2 551.4 427.5 551.6 428.5 551.8 427.0 552.0 429.2 552.2 425.9 552.4 426.8 552.6 427.4 552.8 426.1 553.0 426.8 553.2 425.1 553.4 425.6 553.6 425.6 553.8 424.8 554.0 425.1 554.2 425.0 554.4 423.5 554.6 423.7 554.8 423.2 555.0 422.4 555.2 423.6 555.4 422.5 555.6 421.2 555.8 422.3 556.0 422.8 556.2 422.5 556.4 422.6 556.6 421.2 556.8 420.2 557.0 419.9 557.2 419.7 557.4 419.0 557.6 420.0 557.8 418.4 558.0 419.1 558.2 419.5 558.4 418.6 558.6 419.3 558.8 419.0 559.0 418.3 559.2 417.6 559.4 418.9 559.6 418.0 559.8 417.7 560.0 419.5 560.2 419.7 560.4 419.7 560.6 417.8 560.8 418.7 561.0 418.5 561.2 419.2 561.4 418.5 561.6 419.0 561.8 420.7 562.0 421.3 562.2 419.9 562.4 419.4 562.6 419.9 562.8 419.6 563.0 419.7 563.2 421.3 563.4 420.6 563.6 421.7 563.8 421.4 564.0 421.0 564.2 423.1 564.4 422.7 564.6 424.8 564.8 425.1 565.0 424.3 565.2 424.6 565.4 426.0 565.6 425.1 565.8 425.3 566.0 427.3 566.2 425.9 566.4 427.1 566.6 426.8 566.8 427.9 567.0 428.2 567.2 426.6 567.4 429.8 567.6 428.9 567.8 429.6 568.0 428.9 568.2 428.6 568.4 428.2 568.6 429.9 568.8 428.8 569.0 431.2 569.2 429.3 569.4 430.9 569.6 430.6 569.8 431.7 570.0 430.5 570.2 431.1 570.4 431.9 570.6 430.5 570.8 430.4 571.0 432.6 571.2 432.0 571.4 431.0 571.6 430.1 571.8 431.9 572.0 432.7 572.2 432.5 572.4 431.5 572.6 433.3 572.8 432.9 573.0 433.2 573.2 432.7 573.4 433.3 573.6 432.7 573.8 431.9 574.0 432.9 574.2 431.3 574.4 433.4 574.6 431.8 574.8 432.7 575.0 432.9 575.2 432.0 575.4 433.0 575.6 432.6 575.8 432.6 576.0 433.5 576.2 434.8 576.4 433.7 576.6 433.2 576.8 433.1 577.0 434.5 577.2 434.3 577.4 434.1 577.6 432.6 577.8 433.6 578.0 434.3 578.2 433.4 578.4 435.4 578.6 435.1 578.8 434.7 579.0 434.5 579.2 435.3 579.4 435.4 579.6 435.0 579.8 434.5 580.0 434.5 580.2 434.8 580.4 433.9 580.6 434.2 580.8 435.5 581.0 434.2 581.2 434.2 581.4 435.5 581.6 435.1 581.8 434.4 582.0 433.9 582.2 433.5 582.4 433.4 582.6 433.8 582.8 434.7 583.0 433.5 583.2 434.2 583.4 434.8 583.6 435.5 583.8 435.7 584.0 435.2 584.2 434.3 584.4 434.3 584.6 433.6 584.8 435.2 585.0 434.4 585.2 434.5 585.4 434.5 585.6 434.9 585.8 435.8 586.0 434.2 586.2 433.7 586.4 434.1 586.6 435.3 586.8 435.4 587.0 435.0 587.2 433.7 587.4 433.8 587.6 434.1 587.8 434.9 588.0 435.3 588.2 435.8 588.4 435.3 588.6 433.6 588.8 435.1 589.0 435.2 589.2 434.8 589.4 434.1 589.6 434.3 589.8 434.9 590.0 435.4 590.2 434.2 590.4 433.5 590.6 434.6 590.8 434.8 591.0 436.1 591.2 434.0 591.4 434.5 591.6 434.8 591.8 434.1 592.0 435.3 592.2 435.1 592.4 434.6 592.6 435.7 592.8 434.7 593.0 434.9 593.2 434.4 593.4 435.6 593.6 433.4 593.8 433.9 594.0 434.7 594.2 434.5 594.4 435.3 594.6 434.1 594.8 434.9 595.0 434.7 595.2 434.1 595.4 434.3 595.6 434.6 595.8 435.2 596.0 434.3 596.2 434.9 596.4 433.8 596.6 433.1 596.8 433.6 597.0 435.2 597.2 434.2 597.4 434.8 597.6 435.0 597.8 433.9 598.0 433.4 598.2 434.8 598.4 433.8 598.6 434.0 598.8 433.3 599.0 433.6 599.2 434.5 599.4 434.0 599.6 432.9 599.8 434.1 600.0 433.2 600.2 433.9 600.4 433.3 600.6 434.5 600.8 433.8 601.0 434.6 601.2 433.7 601.4 434.5 601.6 433.8 601.8 433.0 602.0 432.6 602.2 432.4 602.4 433.3 602.6 434.3 602.8 434.3 603.0 433.5 603.2 433.2 603.4 432.9 603.6 433.7 603.8 434.4 604.0 434.3 604.2 432.5 604.4 434.1 604.6 432.8 604.8 433.0 605.0 433.8 605.2 434.3 605.4 434.7 605.6 434.5 605.8 433.6 606.0 433.2 606.2 434.1 606.4 433.7 606.6 435.2 606.8 433.4 607.0 433.5 607.2 433.6 607.4 433.9 607.6 433.3 607.8 434.2 608.0 432.5 608.2 433.3 608.4 434.4 608.6 432.7 608.8 434.5 609.0 435.2 609.2 433.1 609.4 434.7 609.6 434.0 609.8 434.3 610.0 433.6 610.2 433.7 610.4 433.3 610.6 434.9 610.8 433.3 611.0 433.0 611.2 434.5 611.4 433.0 611.6 433.0 611.8 434.0 612.0 434.6 612.2 434.9 612.4 434.3 612.6 432.7 612.8 432.4 613.0 434.2 613.2 434.3 613.4 435.2 613.6 433.6 613.8 433.7 614.0 433.5 614.2 433.1 614.4 434.0 614.6 434.3 614.8 432.5 615.0 434.0 615.2 435.2 615.4 434.7 615.6 433.6 615.8 433.1 616.0 433.5 616.2 432.7 616.4 433.4 616.6 433.6 616.8 433.9 617.0 433.4 617.2 434.2 617.4 433.2 617.6 434.2 617.8 434.5 618.0 434.7 618.2 433.6 618.4 434.4 618.6 433.3 618.8 433.2 619.0 433.6 619.2 433.6 619.4 433.1 619.6 434.7 619.8 433.3 620.0 434.4 620.2 433.0 620.4 433.8 620.6 433.9 620.8 434.3 621.0 433.1 621.2 434.3 621.4 434.9 621.6 433.2 621.8 433.5 622.0 433.5 622.2 434.5 622.4 434.2 622.6 432.7 622.8 433.5 623.0 433.8 623.2 433.0 623.4 434.4 623.6 434.2 623.8 434.4 624.0 432.0 624.2 434.4 624.4 433.5 624.6 433.9 624.8 432.3 625.0 432.5 625.2 432.7 625.4 433.3 625.6 433.7 625.8 433.4 626.0 431.3 626.2 432.3 626.4 433.9 626.6 432.9 626.8 433.9 627.0 433.6 627.2 434.1 627.4 433.5 627.6 432.7 627.8 431.9 628.0 431.9 628.2 433.3 628.4 432.4 628.6 433.7 628.8 431.9 629.0 433.4 629.2 433.3 629.4 433.0 629.6 432.8 629.8 432.6 630.0 432.0 630.2 433.6 630.4 433.2 630.6 433.4 630.8 433.1 631.0 432.7 631.2 433.5 631.4 432.8 631.6 432.3 631.8 432.7 632.0 434.0 632.2 431.5 632.4 433.4 632.6 432.9 632.8 432.9 633.0 433.5 633.2 432.3 633.4 432.6 633.6 432.5 633.8 432.3 634.0 433.0 634.2 433.5 634.4 433.5 634.6 432.7 634.8 432.1 635.0 433.8 635.2 433.9 635.4 433.4 635.6 432.1 635.8 433.0 636.0 434.0 636.2 432.7 636.4 433.2 636.6 433.2 636.8 433.9 637.0 432.6 637.2 432.5 637.4 433.0 637.6 432.6 637.8 433.9 638.0 434.3 638.2 433.5 638.4 433.5 638.6 432.6 638.8 433.8 639.0 433.7 639.2 433.2 639.4 432.9 639.6 433.4 639.8 432.6 640.0 432.5 640.2 433.9 640.4 433.2 640.6 433.0 640.8 431.3 641.0 432.8 641.2 432.6 641.4 433.6 641.6 434.0 641.8 433.0 642.0 432.6 642.2 432.4 642.4 432.8 642.6 432.2 642.8 432.4 643.0 433.7 643.2 432.6 643.4 433.2 643.6 432.4 643.8 432.2 644.0 431.9 644.2 432.5 644.4 432.9 644.6 431.5 644.8 432.3 645.0 433.2 645.2 433.1 645.4 431.8 645.6 432.5 645.8 432.3 646.0 433.1 646.2 431.5 646.4 432.3 646.6 432.5 646.8 432.9 647.0 431.5 647.2 431.9 647.4 432.6 647.6 431.8 647.8 432.9 648.0 432.5 648.2 433.0 648.4 433.5 648.6 433.6 648.8 431.8 649.0 433.0 649.2 431.7 649.4 432.2 649.6 433.3 649.8 433.3 650.0 433.8 650.2 432.3 650.4 433.1 650.6 432.6 650.8 433.5 651.0 433.5 651.2 432.3 651.4 432.1 651.6 432.5 651.8 433.7 652.0 432.0 652.2 432.7 652.4 433.7 652.6 434.2 652.8 433.2 653.0 433.8 653.2 432.7 653.4 432.3 653.6 433.6 653.8 432.1 654.0 433.3 654.2 433.4 654.4 434.5 654.6 433.8 654.8 432.4 655.0 432.3 655.2 432.4 655.4 432.2 655.6 433.8 655.8 432.3 656.0 433.2 656.2 433.6 656.4 432.7 656.6 432.8 656.8 432.3 657.0 433.8 657.2 432.5 657.4 432.6 657.6 432.4 657.8 433.6 658.0 432.5 658.2 432.2 658.4 432.4 658.6 432.3 658.8 432.5 659.0 432.3 659.2 433.3 659.4 432.1 659.6 432.1 659.8 431.9 660.0 432.2 660.2 433.2 660.4 432.8 660.6 431.3 660.8 431.2 661.0 432.1 661.2 431.4 661.4 431.6 661.6 431.8 661.8 431.9 662.0 431.7 662.2 431.2 662.4 431.1 662.6 432.4 662.8 431.2 663.0 432.5 663.2 431.9 663.4 431.8 663.6 432.3 663.8 431.6 664.0 430.5 664.2 432.4 664.4 432.2 664.6 430.8 664.8 431.6 665.0 431.4 665.2 432.0 665.4 432.4 665.6 431.4 665.8 432.3 666.0 431.3 666.2 431.1 666.4 431.1 666.6 431.3 666.8 431.2 667.0 431.1 667.2 430.5 667.4 432.9 667.6 431.6 667.8 431.1 668.0 431.8 668.2 430.6 668.4 430.6 668.6 430.8 668.8 432.0 669.0 431.1 669.2 431.7 669.4 431.5 669.6 431.7 669.8 431.9 670.0 432.3 670.2 432.0 670.4 431.4 670.6 432.0 670.8 432.2 671.0 430.4 671.2 430.7"/>
</g>
<g stroke-width="2">
<path stroke="#0000ff" d="M351 75.2H397"/>
<path stroke="#ff0000" d="M351 107.8H397"/>
<path stroke="#000" d="M351 140.1H397"/>
</g>
<g transform="scale(0.82,1)" class="t" font-size="18" fill="#3e3e48" letter-spacing="4.50">
<text x="112.18" y="15" text-anchor="end">5000</text>
<text x="112.18" y="109" text-anchor="end">4000</text>
<text x="112.18" y="199" text-anchor="end">3000</text>
<text x="112.18" y="289" text-anchor="end">2000</text>
<text x="112.18" y="380" text-anchor="end">1000</text>
<text x="109.74" y="470" text-anchor="end">0</text>
<text x="133.10" y="497" text-anchor="middle">15</text>
<text x="303.71" y="497" text-anchor="middle">30</text>
<text x="476.52" y="497" text-anchor="middle">45</text>
<text x="647.62" y="497" text-anchor="middle">60</text>
<text x="821.03" y="497" text-anchor="middle">75</text>
</g>
<text class="t" x="294" y="525.5" font-size="21.5" letter-spacing="1.5" fill="#111">2-Theta (Degree)</text>
<text class="t" transform="translate(25,344) rotate(-90)" font-size="27" font-weight="bold" fill="#111">Intencity (a.u.)</text>
<g class="s" font-size="31" fill="#111">
<text x="406" y="83.5">MBA</text>
<text x="404.5" y="115.7" textLength="147.5" lengthAdjust="spacing">Biosilica/Fe</text>
<text x="553.8" y="118" font-size="21">3</text>
<text x="563.8" y="115.7">O</text>
<text x="585.4" y="118" font-size="21">4</text>
<text x="404.5" y="150.3" textLength="28.5" lengthAdjust="spacing">Fe</text>
<text x="435.3" y="152.5" font-size="21">3</text>
<text x="446.3" y="150.3">O</text>
<text x="467.9" y="152.5" font-size="21">4</text>
</g>
</svg>
</body></html>
